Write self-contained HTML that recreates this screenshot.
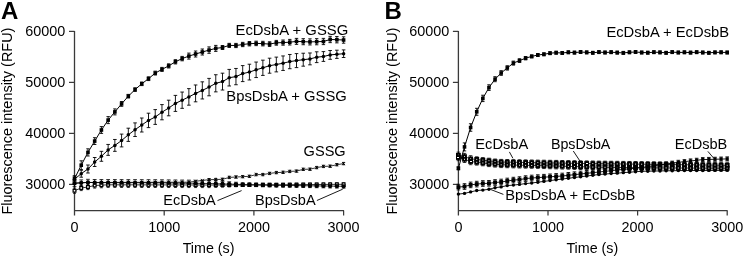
<!DOCTYPE html>
<html><head><meta charset="utf-8"><style>
html,body{margin:0;padding:0;background:#fff;width:744px;height:257px;overflow:hidden;}
svg{display:block;}
svg{will-change:transform}
text{font-family:"Liberation Sans",sans-serif;fill:#000;}
</style></head><body>
<svg width="744" height="257" viewBox="0 0 744 257">
<rect width="744" height="257" fill="#fff"/>
<path d="M74.5 31V215.5M74.5 210.6H344.1" stroke="#3a3a3a" stroke-width="1.3" fill="none"/>
<path d="M164.20 211V215.5" stroke="#3a3a3a" stroke-width="1.25" fill="none"/>
<path d="M253.90 211V215.5" stroke="#3a3a3a" stroke-width="1.25" fill="none"/>
<path d="M343.60 211V215.5" stroke="#3a3a3a" stroke-width="1.25" fill="none"/>
<path d="M69.0 31.4H74.5" stroke="#3a3a3a" stroke-width="1.25" fill="none"/>
<path d="M69.0 82.4H74.5" stroke="#3a3a3a" stroke-width="1.25" fill="none"/>
<path d="M69.0 133.4H74.5" stroke="#3a3a3a" stroke-width="1.25" fill="none"/>
<path d="M69.0 184.4H74.5" stroke="#3a3a3a" stroke-width="1.25" fill="none"/>
<polyline points="74.50,190.70 81.23,188.00 87.95,187.00 94.68,185.50 101.41,185.15 108.14,184.80 114.87,184.81 121.59,184.83 128.32,184.84 135.05,184.85 141.78,184.87 148.50,184.88 155.23,184.89 161.96,184.91 168.69,184.92 175.41,184.93 182.14,184.95 188.87,184.96 195.59,184.97 202.32,184.99 209.05,185.00 215.78,185.00 222.50,185.00 229.23,185.00 235.96,185.00 242.69,185.00 249.41,184.96 256.14,184.92 262.87,184.88 269.60,184.84 276.32,184.80 283.05,184.75 289.78,184.70 296.51,184.65 303.24,184.60 309.96,184.55 316.69,184.50 323.42,184.45 330.14,184.40 336.87,184.35 343.60,184.30" fill="none" stroke="#000" stroke-width="0.8"/>
<polyline points="74.50,183.50 81.23,183.00 87.95,182.40 94.68,182.60 101.41,182.62 108.14,182.64 114.87,182.67 121.59,182.69 128.32,182.71 135.05,182.73 141.78,182.76 148.50,182.78 155.23,182.80 161.96,182.89 168.69,182.98 175.41,183.06 182.14,183.15 188.87,183.24 195.59,183.32 202.32,183.41 209.05,183.50 215.78,183.70 222.50,183.90 229.23,184.10 235.96,184.30 242.69,184.50 249.41,184.66 256.14,184.82 262.87,184.98 269.60,185.14 276.32,185.30 283.05,185.40 289.78,185.50 296.51,185.60 303.24,185.70 309.96,185.80 316.69,185.90 323.42,186.00 330.14,186.10 336.87,186.20 343.60,186.30" fill="none" stroke="#000" stroke-width="0.8"/>
<polyline points="74.50,183.00 81.23,182.50 87.95,182.48 94.68,182.46 101.41,182.44 108.14,182.43 114.87,182.41 121.59,182.39 128.32,182.37 135.05,182.35 141.78,182.33 148.50,182.31 155.23,182.29 161.96,182.27 168.69,182.26 175.41,182.24 182.14,182.22 188.87,182.20 195.59,181.30 202.32,180.40 209.05,179.70 215.78,179.50 222.50,179.30 229.23,177.40 235.96,177.03 242.69,176.67 249.41,176.30 256.14,174.60 262.87,174.60 269.60,173.40 276.32,172.60 283.05,172.30 289.78,171.40 296.51,171.10 303.24,169.30 309.96,169.20 316.69,167.60 323.42,166.40 330.14,166.20 336.87,164.70 343.60,163.60" fill="none" stroke="#000" stroke-width="0.8"/>
<path d="M74.50 188.10V193.30M73.00 188.10h3.0M73.00 193.30h3.0" stroke="#000" stroke-width="0.8" fill="none"/>
<path d="M74.50 180.40V186.60M72.60 180.40h3.8M72.60 186.60h3.8" stroke="#000" stroke-width="0.8" fill="none"/>
<path d="M81.23 185.40V190.60M79.73 185.40h3.0M79.73 190.60h3.0" stroke="#000" stroke-width="0.8" fill="none"/>
<path d="M81.23 179.90V186.10M79.33 179.90h3.8M79.33 186.10h3.8" stroke="#000" stroke-width="0.8" fill="none"/>
<path d="M87.95 184.40V189.60M86.45 184.40h3.0M86.45 189.60h3.0" stroke="#000" stroke-width="0.8" fill="none"/>
<path d="M87.95 179.30V185.50M86.05 179.30h3.8M86.05 185.50h3.8" stroke="#000" stroke-width="0.8" fill="none"/>
<path d="M94.68 182.90V188.10M93.18 182.90h3.0M93.18 188.10h3.0" stroke="#000" stroke-width="0.8" fill="none"/>
<path d="M94.68 179.50V185.70M92.78 179.50h3.8M92.78 185.70h3.8" stroke="#000" stroke-width="0.8" fill="none"/>
<path d="M101.41 182.55V187.75M99.91 182.55h3.0M99.91 187.75h3.0" stroke="#000" stroke-width="0.8" fill="none"/>
<path d="M101.41 179.52V185.72M99.51 179.52h3.8M99.51 185.72h3.8" stroke="#000" stroke-width="0.8" fill="none"/>
<path d="M108.14 182.20V187.40M106.64 182.20h3.0M106.64 187.40h3.0" stroke="#000" stroke-width="0.8" fill="none"/>
<path d="M108.14 179.54V185.74M106.24 179.54h3.8M106.24 185.74h3.8" stroke="#000" stroke-width="0.8" fill="none"/>
<path d="M114.87 182.21V187.41M113.37 182.21h3.0M113.37 187.41h3.0" stroke="#000" stroke-width="0.8" fill="none"/>
<path d="M114.87 179.57V185.77M112.97 179.57h3.8M112.97 185.77h3.8" stroke="#000" stroke-width="0.8" fill="none"/>
<path d="M121.59 182.23V187.43M120.09 182.23h3.0M120.09 187.43h3.0" stroke="#000" stroke-width="0.8" fill="none"/>
<path d="M121.59 179.59V185.79M119.69 179.59h3.8M119.69 185.79h3.8" stroke="#000" stroke-width="0.8" fill="none"/>
<path d="M128.32 182.24V187.44M126.82 182.24h3.0M126.82 187.44h3.0" stroke="#000" stroke-width="0.8" fill="none"/>
<path d="M128.32 179.61V185.81M126.42 179.61h3.8M126.42 185.81h3.8" stroke="#000" stroke-width="0.8" fill="none"/>
<path d="M135.05 182.25V187.45M133.55 182.25h3.0M133.55 187.45h3.0" stroke="#000" stroke-width="0.8" fill="none"/>
<path d="M135.05 179.63V185.83M133.15 179.63h3.8M133.15 185.83h3.8" stroke="#000" stroke-width="0.8" fill="none"/>
<path d="M141.78 182.27V187.47M140.28 182.27h3.0M140.28 187.47h3.0" stroke="#000" stroke-width="0.8" fill="none"/>
<path d="M141.78 179.66V185.86M139.88 179.66h3.8M139.88 185.86h3.8" stroke="#000" stroke-width="0.8" fill="none"/>
<path d="M148.50 182.28V187.48M147.00 182.28h3.0M147.00 187.48h3.0" stroke="#000" stroke-width="0.8" fill="none"/>
<path d="M148.50 179.68V185.88M146.60 179.68h3.8M146.60 185.88h3.8" stroke="#000" stroke-width="0.8" fill="none"/>
<path d="M155.23 182.29V187.49M153.73 182.29h3.0M153.73 187.49h3.0" stroke="#000" stroke-width="0.8" fill="none"/>
<path d="M155.23 179.70V185.90M153.33 179.70h3.8M153.33 185.90h3.8" stroke="#000" stroke-width="0.8" fill="none"/>
<path d="M161.96 182.31V187.51M160.46 182.31h3.0M160.46 187.51h3.0" stroke="#000" stroke-width="0.8" fill="none"/>
<path d="M161.96 179.79V185.99M160.06 179.79h3.8M160.06 185.99h3.8" stroke="#000" stroke-width="0.8" fill="none"/>
<path d="M168.69 182.32V187.52M167.19 182.32h3.0M167.19 187.52h3.0" stroke="#000" stroke-width="0.8" fill="none"/>
<path d="M168.69 179.88V186.08M166.78 179.88h3.8M166.78 186.08h3.8" stroke="#000" stroke-width="0.8" fill="none"/>
<path d="M175.41 182.33V187.53M173.91 182.33h3.0M173.91 187.53h3.0" stroke="#000" stroke-width="0.8" fill="none"/>
<path d="M175.41 179.96V186.16M173.51 179.96h3.8M173.51 186.16h3.8" stroke="#000" stroke-width="0.8" fill="none"/>
<path d="M182.14 182.35V187.55M180.64 182.35h3.0M180.64 187.55h3.0" stroke="#000" stroke-width="0.8" fill="none"/>
<path d="M182.14 180.05V186.25M180.24 180.05h3.8M180.24 186.25h3.8" stroke="#000" stroke-width="0.8" fill="none"/>
<path d="M188.87 182.36V187.56M187.37 182.36h3.0M187.37 187.56h3.0" stroke="#000" stroke-width="0.8" fill="none"/>
<path d="M188.87 180.14V186.34M186.97 180.14h3.8M186.97 186.34h3.8" stroke="#000" stroke-width="0.8" fill="none"/>
<path d="M195.59 182.37V187.57M194.09 182.37h3.0M194.09 187.57h3.0" stroke="#000" stroke-width="0.8" fill="none"/>
<path d="M195.59 180.22V186.42M193.69 180.22h3.8M193.69 186.42h3.8" stroke="#000" stroke-width="0.8" fill="none"/>
<path d="M202.32 182.39V187.59M200.82 182.39h3.0M200.82 187.59h3.0" stroke="#000" stroke-width="0.8" fill="none"/>
<path d="M202.32 180.31V186.51M200.42 180.31h3.8M200.42 186.51h3.8" stroke="#000" stroke-width="0.8" fill="none"/>
<path d="M209.05 182.40V187.60M207.55 182.40h3.0M207.55 187.60h3.0" stroke="#000" stroke-width="0.8" fill="none"/>
<path d="M209.05 180.40V186.60M207.15 180.40h3.8M207.15 186.60h3.8" stroke="#000" stroke-width="0.8" fill="none"/>
<path d="M215.78 182.62V187.38M214.28 182.62h3.0M214.28 187.38h3.0" stroke="#000" stroke-width="0.8" fill="none"/>
<path d="M215.78 180.86V186.54M213.88 180.86h3.8M213.88 186.54h3.8" stroke="#000" stroke-width="0.8" fill="none"/>
<path d="M222.50 182.84V187.16M221.00 182.84h3.0M221.00 187.16h3.0" stroke="#000" stroke-width="0.8" fill="none"/>
<path d="M222.50 181.32V186.48M220.60 181.32h3.8M220.60 186.48h3.8" stroke="#000" stroke-width="0.8" fill="none"/>
<path d="M229.23 183.06V186.94M227.73 183.06h3.0M227.73 186.94h3.0" stroke="#000" stroke-width="0.8" fill="none"/>
<path d="M229.23 181.78V186.42M227.33 181.78h3.8M227.33 186.42h3.8" stroke="#000" stroke-width="0.8" fill="none"/>
<path d="M235.96 183.28V186.72M234.46 183.28h3.0M234.46 186.72h3.0" stroke="#000" stroke-width="0.8" fill="none"/>
<path d="M235.96 182.24V186.36M234.06 182.24h3.8M234.06 186.36h3.8" stroke="#000" stroke-width="0.8" fill="none"/>
<path d="M242.69 183.50V186.50M241.19 183.50h3.0M241.19 186.50h3.0" stroke="#000" stroke-width="0.8" fill="none"/>
<path d="M242.69 182.70V186.30M240.79 182.70h3.8M240.79 186.30h3.8" stroke="#000" stroke-width="0.8" fill="none"/>
<path d="M249.41 183.46V186.46M247.91 183.46h3.0M247.91 186.46h3.0" stroke="#000" stroke-width="0.8" fill="none"/>
<path d="M249.41 182.86V186.46M247.51 182.86h3.8M247.51 186.46h3.8" stroke="#000" stroke-width="0.8" fill="none"/>
<path d="M256.14 183.42V186.42M254.64 183.42h3.0M254.64 186.42h3.0" stroke="#000" stroke-width="0.8" fill="none"/>
<path d="M256.14 183.02V186.62M254.24 183.02h3.8M254.24 186.62h3.8" stroke="#000" stroke-width="0.8" fill="none"/>
<path d="M262.87 183.38V186.38M261.37 183.38h3.0M261.37 186.38h3.0" stroke="#000" stroke-width="0.8" fill="none"/>
<path d="M262.87 183.18V186.78M260.97 183.18h3.8M260.97 186.78h3.8" stroke="#000" stroke-width="0.8" fill="none"/>
<path d="M269.60 183.34V186.34M268.10 183.34h3.0M268.10 186.34h3.0" stroke="#000" stroke-width="0.8" fill="none"/>
<path d="M269.60 183.34V186.94M267.70 183.34h3.8M267.70 186.94h3.8" stroke="#000" stroke-width="0.8" fill="none"/>
<path d="M276.32 183.30V186.30M274.82 183.30h3.0M274.82 186.30h3.0" stroke="#000" stroke-width="0.8" fill="none"/>
<path d="M276.32 183.50V187.10M274.43 183.50h3.8M274.43 187.10h3.8" stroke="#000" stroke-width="0.8" fill="none"/>
<path d="M283.05 183.25V186.25M281.55 183.25h3.0M281.55 186.25h3.0" stroke="#000" stroke-width="0.8" fill="none"/>
<path d="M283.05 183.60V187.20M281.15 183.60h3.8M281.15 187.20h3.8" stroke="#000" stroke-width="0.8" fill="none"/>
<path d="M289.78 183.20V186.20M288.28 183.20h3.0M288.28 186.20h3.0" stroke="#000" stroke-width="0.8" fill="none"/>
<path d="M289.78 183.70V187.30M287.88 183.70h3.8M287.88 187.30h3.8" stroke="#000" stroke-width="0.8" fill="none"/>
<path d="M296.51 183.15V186.15M295.01 183.15h3.0M295.01 186.15h3.0" stroke="#000" stroke-width="0.8" fill="none"/>
<path d="M296.51 183.80V187.40M294.61 183.80h3.8M294.61 187.40h3.8" stroke="#000" stroke-width="0.8" fill="none"/>
<path d="M303.24 183.10V186.10M301.74 183.10h3.0M301.74 186.10h3.0" stroke="#000" stroke-width="0.8" fill="none"/>
<path d="M303.24 183.90V187.50M301.34 183.90h3.8M301.34 187.50h3.8" stroke="#000" stroke-width="0.8" fill="none"/>
<path d="M309.96 183.05V186.05M308.46 183.05h3.0M308.46 186.05h3.0" stroke="#000" stroke-width="0.8" fill="none"/>
<path d="M309.96 184.00V187.60M308.06 184.00h3.8M308.06 187.60h3.8" stroke="#000" stroke-width="0.8" fill="none"/>
<path d="M316.69 183.00V186.00M315.19 183.00h3.0M315.19 186.00h3.0" stroke="#000" stroke-width="0.8" fill="none"/>
<path d="M316.69 184.10V187.70M314.79 184.10h3.8M314.79 187.70h3.8" stroke="#000" stroke-width="0.8" fill="none"/>
<path d="M323.42 182.95V185.95M321.92 182.95h3.0M321.92 185.95h3.0" stroke="#000" stroke-width="0.8" fill="none"/>
<path d="M323.42 184.20V187.80M321.52 184.20h3.8M321.52 187.80h3.8" stroke="#000" stroke-width="0.8" fill="none"/>
<path d="M330.14 182.90V185.90M328.64 182.90h3.0M328.64 185.90h3.0" stroke="#000" stroke-width="0.8" fill="none"/>
<path d="M330.14 184.30V187.90M328.25 184.30h3.8M328.25 187.90h3.8" stroke="#000" stroke-width="0.8" fill="none"/>
<path d="M336.87 182.85V185.85M335.37 182.85h3.0M335.37 185.85h3.0" stroke="#000" stroke-width="0.8" fill="none"/>
<path d="M336.87 184.40V188.00M334.97 184.40h3.8M334.97 188.00h3.8" stroke="#000" stroke-width="0.8" fill="none"/>
<path d="M343.60 182.80V185.80M342.10 182.80h3.0M342.10 185.80h3.0" stroke="#000" stroke-width="0.8" fill="none"/>
<path d="M343.60 184.50V188.10M341.70 184.50h3.8M341.70 188.10h3.8" stroke="#000" stroke-width="0.8" fill="none"/>
<rect x="73.10" y="189.30" width="2.8" height="2.8" fill="#fff" stroke="#000" stroke-width="1.2"/>
<rect x="79.83" y="186.60" width="2.8" height="2.8" fill="#fff" stroke="#000" stroke-width="1.2"/>
<rect x="86.55" y="185.60" width="2.8" height="2.8" fill="#fff" stroke="#000" stroke-width="1.2"/>
<rect x="93.28" y="184.10" width="2.8" height="2.8" fill="#fff" stroke="#000" stroke-width="1.2"/>
<rect x="100.01" y="183.75" width="2.8" height="2.8" fill="#fff" stroke="#000" stroke-width="1.2"/>
<rect x="106.74" y="183.40" width="2.8" height="2.8" fill="#fff" stroke="#000" stroke-width="1.2"/>
<rect x="113.47" y="183.41" width="2.8" height="2.8" fill="#fff" stroke="#000" stroke-width="1.2"/>
<rect x="120.19" y="183.43" width="2.8" height="2.8" fill="#fff" stroke="#000" stroke-width="1.2"/>
<rect x="126.92" y="183.44" width="2.8" height="2.8" fill="#fff" stroke="#000" stroke-width="1.2"/>
<rect x="133.65" y="183.45" width="2.8" height="2.8" fill="#fff" stroke="#000" stroke-width="1.2"/>
<rect x="140.38" y="183.47" width="2.8" height="2.8" fill="#fff" stroke="#000" stroke-width="1.2"/>
<rect x="147.10" y="183.48" width="2.8" height="2.8" fill="#fff" stroke="#000" stroke-width="1.2"/>
<rect x="153.83" y="183.49" width="2.8" height="2.8" fill="#fff" stroke="#000" stroke-width="1.2"/>
<rect x="160.56" y="183.51" width="2.8" height="2.8" fill="#fff" stroke="#000" stroke-width="1.2"/>
<rect x="167.28" y="183.52" width="2.8" height="2.8" fill="#fff" stroke="#000" stroke-width="1.2"/>
<rect x="174.01" y="183.53" width="2.8" height="2.8" fill="#fff" stroke="#000" stroke-width="1.2"/>
<rect x="180.74" y="183.55" width="2.8" height="2.8" fill="#fff" stroke="#000" stroke-width="1.2"/>
<rect x="187.47" y="183.56" width="2.8" height="2.8" fill="#fff" stroke="#000" stroke-width="1.2"/>
<rect x="194.19" y="183.57" width="2.8" height="2.8" fill="#fff" stroke="#000" stroke-width="1.2"/>
<rect x="200.92" y="183.59" width="2.8" height="2.8" fill="#fff" stroke="#000" stroke-width="1.2"/>
<rect x="207.65" y="183.60" width="2.8" height="2.8" fill="#fff" stroke="#000" stroke-width="1.2"/>
<rect x="214.38" y="183.60" width="2.8" height="2.8" fill="#fff" stroke="#000" stroke-width="1.2"/>
<rect x="221.10" y="183.60" width="2.8" height="2.8" fill="#fff" stroke="#000" stroke-width="1.2"/>
<rect x="227.83" y="183.60" width="2.8" height="2.8" fill="#fff" stroke="#000" stroke-width="1.2"/>
<rect x="234.56" y="183.60" width="2.8" height="2.8" fill="#fff" stroke="#000" stroke-width="1.2"/>
<rect x="241.29" y="183.60" width="2.8" height="2.8" fill="#fff" stroke="#000" stroke-width="1.2"/>
<rect x="248.01" y="183.56" width="2.8" height="2.8" fill="#fff" stroke="#000" stroke-width="1.2"/>
<rect x="254.74" y="183.52" width="2.8" height="2.8" fill="#fff" stroke="#000" stroke-width="1.2"/>
<rect x="261.47" y="183.48" width="2.8" height="2.8" fill="#fff" stroke="#000" stroke-width="1.2"/>
<rect x="268.20" y="183.44" width="2.8" height="2.8" fill="#fff" stroke="#000" stroke-width="1.2"/>
<rect x="274.93" y="183.40" width="2.8" height="2.8" fill="#fff" stroke="#000" stroke-width="1.2"/>
<rect x="281.65" y="183.35" width="2.8" height="2.8" fill="#fff" stroke="#000" stroke-width="1.2"/>
<rect x="288.38" y="183.30" width="2.8" height="2.8" fill="#fff" stroke="#000" stroke-width="1.2"/>
<rect x="295.11" y="183.25" width="2.8" height="2.8" fill="#fff" stroke="#000" stroke-width="1.2"/>
<rect x="301.84" y="183.20" width="2.8" height="2.8" fill="#fff" stroke="#000" stroke-width="1.2"/>
<rect x="308.56" y="183.15" width="2.8" height="2.8" fill="#fff" stroke="#000" stroke-width="1.2"/>
<rect x="315.29" y="183.10" width="2.8" height="2.8" fill="#fff" stroke="#000" stroke-width="1.2"/>
<rect x="322.02" y="183.05" width="2.8" height="2.8" fill="#fff" stroke="#000" stroke-width="1.2"/>
<rect x="328.75" y="183.00" width="2.8" height="2.8" fill="#fff" stroke="#000" stroke-width="1.2"/>
<rect x="335.47" y="182.95" width="2.8" height="2.8" fill="#fff" stroke="#000" stroke-width="1.2"/>
<rect x="342.20" y="182.90" width="2.8" height="2.8" fill="#fff" stroke="#000" stroke-width="1.2"/>
<circle cx="74.50" cy="183.50" r="2.1" fill="#000"/>
<circle cx="81.23" cy="183.00" r="2.1" fill="#000"/>
<circle cx="87.95" cy="182.40" r="2.1" fill="#000"/>
<circle cx="94.68" cy="182.60" r="2.1" fill="#000"/>
<circle cx="101.41" cy="182.62" r="2.1" fill="#000"/>
<circle cx="108.14" cy="182.64" r="2.1" fill="#000"/>
<circle cx="114.87" cy="182.67" r="2.1" fill="#000"/>
<circle cx="121.59" cy="182.69" r="2.1" fill="#000"/>
<circle cx="128.32" cy="182.71" r="2.1" fill="#000"/>
<circle cx="135.05" cy="182.73" r="2.1" fill="#000"/>
<circle cx="141.78" cy="182.76" r="2.1" fill="#000"/>
<circle cx="148.50" cy="182.78" r="2.1" fill="#000"/>
<circle cx="155.23" cy="182.80" r="2.1" fill="#000"/>
<circle cx="161.96" cy="182.89" r="2.1" fill="#000"/>
<circle cx="168.69" cy="182.98" r="2.1" fill="#000"/>
<circle cx="175.41" cy="183.06" r="2.1" fill="#000"/>
<circle cx="182.14" cy="183.15" r="2.1" fill="#000"/>
<circle cx="188.87" cy="183.24" r="2.1" fill="#000"/>
<circle cx="195.59" cy="183.32" r="2.1" fill="#000"/>
<circle cx="202.32" cy="183.41" r="2.1" fill="#000"/>
<circle cx="209.05" cy="183.50" r="2.1" fill="#000"/>
<circle cx="215.78" cy="183.70" r="2.1" fill="#000"/>
<circle cx="222.50" cy="183.90" r="2.1" fill="#000"/>
<circle cx="229.23" cy="184.10" r="2.1" fill="#000"/>
<circle cx="235.96" cy="184.30" r="2.1" fill="#000"/>
<circle cx="242.69" cy="184.50" r="2.1" fill="#000"/>
<circle cx="249.41" cy="184.66" r="2.1" fill="#000"/>
<circle cx="256.14" cy="184.82" r="2.1" fill="#000"/>
<circle cx="262.87" cy="184.98" r="2.1" fill="#000"/>
<circle cx="269.60" cy="185.14" r="2.1" fill="#000"/>
<circle cx="276.32" cy="185.30" r="2.1" fill="#000"/>
<circle cx="283.05" cy="185.40" r="2.1" fill="#000"/>
<circle cx="289.78" cy="185.50" r="2.1" fill="#000"/>
<circle cx="296.51" cy="185.60" r="2.1" fill="#000"/>
<circle cx="303.24" cy="185.70" r="2.1" fill="#000"/>
<circle cx="309.96" cy="185.80" r="2.1" fill="#000"/>
<circle cx="316.69" cy="185.90" r="2.1" fill="#000"/>
<circle cx="323.42" cy="186.00" r="2.1" fill="#000"/>
<circle cx="330.14" cy="186.10" r="2.1" fill="#000"/>
<circle cx="336.87" cy="186.20" r="2.1" fill="#000"/>
<circle cx="343.60" cy="186.30" r="2.1" fill="#000"/>
<path d="M73.00 181.50L76.00 184.50M73.00 184.50L76.00 181.50" stroke="#000" stroke-width="0.9"/>
<path d="M79.73 181.00L82.73 184.00M79.73 184.00L82.73 181.00" stroke="#000" stroke-width="0.9"/>
<path d="M86.45 180.98L89.45 183.98M86.45 183.98L89.45 180.98" stroke="#000" stroke-width="0.9"/>
<path d="M93.18 180.96L96.18 183.96M93.18 183.96L96.18 180.96" stroke="#000" stroke-width="0.9"/>
<path d="M99.91 180.94L102.91 183.94M99.91 183.94L102.91 180.94" stroke="#000" stroke-width="0.9"/>
<path d="M106.64 180.93L109.64 183.93M106.64 183.93L109.64 180.93" stroke="#000" stroke-width="0.9"/>
<path d="M113.37 180.91L116.37 183.91M113.37 183.91L116.37 180.91" stroke="#000" stroke-width="0.9"/>
<path d="M120.09 180.89L123.09 183.89M120.09 183.89L123.09 180.89" stroke="#000" stroke-width="0.9"/>
<path d="M126.82 180.87L129.82 183.87M126.82 183.87L129.82 180.87" stroke="#000" stroke-width="0.9"/>
<path d="M133.55 180.85L136.55 183.85M133.55 183.85L136.55 180.85" stroke="#000" stroke-width="0.9"/>
<path d="M140.28 180.83L143.28 183.83M140.28 183.83L143.28 180.83" stroke="#000" stroke-width="0.9"/>
<path d="M147.00 180.81L150.00 183.81M147.00 183.81L150.00 180.81" stroke="#000" stroke-width="0.9"/>
<path d="M153.73 180.79L156.73 183.79M153.73 183.79L156.73 180.79" stroke="#000" stroke-width="0.9"/>
<path d="M160.46 180.77L163.46 183.77M160.46 183.77L163.46 180.77" stroke="#000" stroke-width="0.9"/>
<path d="M167.19 180.76L170.19 183.76M167.19 183.76L170.19 180.76" stroke="#000" stroke-width="0.9"/>
<path d="M173.91 180.74L176.91 183.74M173.91 183.74L176.91 180.74" stroke="#000" stroke-width="0.9"/>
<path d="M180.64 180.72L183.64 183.72M180.64 183.72L183.64 180.72" stroke="#000" stroke-width="0.9"/>
<path d="M187.37 180.70L190.37 183.70M187.37 183.70L190.37 180.70" stroke="#000" stroke-width="0.9"/>
<path d="M194.09 179.80L197.09 182.80M194.09 182.80L197.09 179.80" stroke="#000" stroke-width="0.9"/>
<path d="M200.82 178.90L203.82 181.90M200.82 181.90L203.82 178.90" stroke="#000" stroke-width="0.9"/>
<path d="M207.55 178.20L210.55 181.20M207.55 181.20L210.55 178.20" stroke="#000" stroke-width="0.9"/>
<path d="M209.05 178.50V180.90M207.85 178.50h2.4M207.85 180.90h2.4" stroke="#000" stroke-width="0.9" fill="none"/>
<path d="M214.28 178.00L217.28 181.00M214.28 181.00L217.28 178.00" stroke="#000" stroke-width="0.9"/>
<path d="M215.78 178.30V180.70M214.58 178.30h2.4M214.58 180.70h2.4" stroke="#000" stroke-width="0.9" fill="none"/>
<path d="M221.00 177.80L224.00 180.80M221.00 180.80L224.00 177.80" stroke="#000" stroke-width="0.9"/>
<path d="M222.50 178.10V180.50M221.31 178.10h2.4M221.31 180.50h2.4" stroke="#000" stroke-width="0.9" fill="none"/>
<path d="M227.73 175.90L230.73 178.90M227.73 178.90L230.73 175.90" stroke="#000" stroke-width="0.9"/>
<path d="M229.23 176.20V178.60M228.03 176.20h2.4M228.03 178.60h2.4" stroke="#000" stroke-width="0.9" fill="none"/>
<path d="M234.46 175.53L237.46 178.53M234.46 178.53L237.46 175.53" stroke="#000" stroke-width="0.9"/>
<path d="M235.96 175.83V178.23M234.76 175.83h2.4M234.76 178.23h2.4" stroke="#000" stroke-width="0.9" fill="none"/>
<path d="M241.19 175.17L244.19 178.17M241.19 178.17L244.19 175.17" stroke="#000" stroke-width="0.9"/>
<path d="M242.69 175.47V177.87M241.49 175.47h2.4M241.49 177.87h2.4" stroke="#000" stroke-width="0.9" fill="none"/>
<path d="M247.91 174.80L250.91 177.80M247.91 177.80L250.91 174.80" stroke="#000" stroke-width="0.9"/>
<path d="M249.41 175.10V177.50M248.22 175.10h2.4M248.22 177.50h2.4" stroke="#000" stroke-width="0.9" fill="none"/>
<path d="M254.64 173.10L257.64 176.10M254.64 176.10L257.64 173.10" stroke="#000" stroke-width="0.9"/>
<path d="M256.14 173.40V175.80M254.94 173.40h2.4M254.94 175.80h2.4" stroke="#000" stroke-width="0.9" fill="none"/>
<path d="M261.37 173.10L264.37 176.10M261.37 176.10L264.37 173.10" stroke="#000" stroke-width="0.9"/>
<path d="M262.87 173.40V175.80M261.67 173.40h2.4M261.67 175.80h2.4" stroke="#000" stroke-width="0.9" fill="none"/>
<path d="M268.10 171.90L271.10 174.90M268.10 174.90L271.10 171.90" stroke="#000" stroke-width="0.9"/>
<path d="M269.60 172.20V174.60M268.40 172.20h2.4M268.40 174.60h2.4" stroke="#000" stroke-width="0.9" fill="none"/>
<path d="M274.82 171.10L277.82 174.10M274.82 174.10L277.82 171.10" stroke="#000" stroke-width="0.9"/>
<path d="M276.32 171.40V173.80M275.12 171.40h2.4M275.12 173.80h2.4" stroke="#000" stroke-width="0.9" fill="none"/>
<path d="M281.55 170.80L284.55 173.80M281.55 173.80L284.55 170.80" stroke="#000" stroke-width="0.9"/>
<path d="M283.05 171.10V173.50M281.85 171.10h2.4M281.85 173.50h2.4" stroke="#000" stroke-width="0.9" fill="none"/>
<path d="M288.28 169.90L291.28 172.90M288.28 172.90L291.28 169.90" stroke="#000" stroke-width="0.9"/>
<path d="M289.78 170.20V172.60M288.58 170.20h2.4M288.58 172.60h2.4" stroke="#000" stroke-width="0.9" fill="none"/>
<path d="M295.01 169.60L298.01 172.60M295.01 172.60L298.01 169.60" stroke="#000" stroke-width="0.9"/>
<path d="M296.51 169.90V172.30M295.31 169.90h2.4M295.31 172.30h2.4" stroke="#000" stroke-width="0.9" fill="none"/>
<path d="M301.74 167.80L304.74 170.80M301.74 170.80L304.74 167.80" stroke="#000" stroke-width="0.9"/>
<path d="M303.24 168.10V170.50M302.04 168.10h2.4M302.04 170.50h2.4" stroke="#000" stroke-width="0.9" fill="none"/>
<path d="M308.46 167.70L311.46 170.70M308.46 170.70L311.46 167.70" stroke="#000" stroke-width="0.9"/>
<path d="M309.96 168.00V170.40M308.76 168.00h2.4M308.76 170.40h2.4" stroke="#000" stroke-width="0.9" fill="none"/>
<path d="M315.19 166.10L318.19 169.10M315.19 169.10L318.19 166.10" stroke="#000" stroke-width="0.9"/>
<path d="M316.69 166.40V168.80M315.49 166.40h2.4M315.49 168.80h2.4" stroke="#000" stroke-width="0.9" fill="none"/>
<path d="M321.92 164.90L324.92 167.90M321.92 167.90L324.92 164.90" stroke="#000" stroke-width="0.9"/>
<path d="M323.42 165.20V167.60M322.22 165.20h2.4M322.22 167.60h2.4" stroke="#000" stroke-width="0.9" fill="none"/>
<path d="M328.64 164.70L331.64 167.70M328.64 167.70L331.64 164.70" stroke="#000" stroke-width="0.9"/>
<path d="M330.14 165.00V167.40M328.94 165.00h2.4M328.94 167.40h2.4" stroke="#000" stroke-width="0.9" fill="none"/>
<path d="M335.37 163.20L338.37 166.20M335.37 166.20L338.37 163.20" stroke="#000" stroke-width="0.9"/>
<path d="M336.87 163.50V165.90M335.67 163.50h2.4M335.67 165.90h2.4" stroke="#000" stroke-width="0.9" fill="none"/>
<path d="M342.10 162.10L345.10 165.10M342.10 165.10L345.10 162.10" stroke="#000" stroke-width="0.9"/>
<path d="M343.60 162.40V164.80M342.40 162.40h2.4M342.40 164.80h2.4" stroke="#000" stroke-width="0.9" fill="none"/>
<polyline points="74.50,179.20 81.23,173.70 87.95,169.00 94.68,162.00 101.41,156.30 108.14,149.90 114.87,145.40 121.59,140.50 128.32,134.80 135.05,129.70 141.78,125.00 148.50,120.40 155.23,117.00 161.96,112.20 168.69,108.00 175.41,103.40 182.14,100.20 188.87,96.90 195.59,93.40 202.32,90.40 209.05,87.10 215.78,83.30 222.50,81.60 229.23,77.70 235.96,76.60 242.69,73.60 249.41,72.10 256.14,69.80 262.87,67.80 269.60,65.70 276.32,64.50 283.05,63.20 289.78,61.60 296.51,60.60 303.24,59.70 309.96,58.90 316.69,57.20 323.42,56.50 330.14,54.90 336.87,54.30 343.60,53.70" fill="none" stroke="#000" stroke-width="1.0"/>
<path d="M74.50 176.20V182.20M72.70 176.20h3.6M72.70 182.20h3.6" stroke="#000" stroke-width="0.9" fill="none"/>
<circle cx="74.50" cy="179.20" r="1.75" fill="#000"/>
<path d="M81.23 170.20V177.20M79.43 170.20h3.6M79.43 177.20h3.6" stroke="#000" stroke-width="0.9" fill="none"/>
<circle cx="81.23" cy="173.70" r="1.75" fill="#000"/>
<path d="M87.95 165.00V173.00M86.16 165.00h3.6M86.16 173.00h3.6" stroke="#000" stroke-width="0.9" fill="none"/>
<circle cx="87.95" cy="169.00" r="1.75" fill="#000"/>
<path d="M94.68 157.50V166.50M92.88 157.50h3.6M92.88 166.50h3.6" stroke="#000" stroke-width="0.9" fill="none"/>
<circle cx="94.68" cy="162.00" r="1.75" fill="#000"/>
<path d="M101.41 151.33V161.28M99.61 151.33h3.6M99.61 161.28h3.6" stroke="#000" stroke-width="0.9" fill="none"/>
<circle cx="101.41" cy="156.30" r="1.75" fill="#000"/>
<path d="M108.14 144.45V155.35M106.34 144.45h3.6M106.34 155.35h3.6" stroke="#000" stroke-width="0.9" fill="none"/>
<circle cx="108.14" cy="149.90" r="1.75" fill="#000"/>
<path d="M114.87 139.47V151.33M113.07 139.47h3.6M113.07 151.33h3.6" stroke="#000" stroke-width="0.9" fill="none"/>
<circle cx="114.87" cy="145.40" r="1.75" fill="#000"/>
<path d="M121.59 134.10V146.90M119.79 134.10h3.6M119.79 146.90h3.6" stroke="#000" stroke-width="0.9" fill="none"/>
<circle cx="121.59" cy="140.50" r="1.75" fill="#000"/>
<path d="M128.32 128.20V141.40M126.52 128.20h3.6M126.52 141.40h3.6" stroke="#000" stroke-width="0.9" fill="none"/>
<circle cx="128.32" cy="134.80" r="1.75" fill="#000"/>
<path d="M135.05 122.90V136.50M133.25 122.90h3.6M133.25 136.50h3.6" stroke="#000" stroke-width="0.9" fill="none"/>
<circle cx="135.05" cy="129.70" r="1.75" fill="#000"/>
<path d="M141.78 118.00V132.00M139.97 118.00h3.6M139.97 132.00h3.6" stroke="#000" stroke-width="0.9" fill="none"/>
<circle cx="141.78" cy="125.00" r="1.75" fill="#000"/>
<path d="M148.50 113.20V127.60M146.70 113.20h3.6M146.70 127.60h3.6" stroke="#000" stroke-width="0.9" fill="none"/>
<circle cx="148.50" cy="120.40" r="1.75" fill="#000"/>
<path d="M155.23 109.60V124.40M153.43 109.60h3.6M153.43 124.40h3.6" stroke="#000" stroke-width="0.9" fill="none"/>
<circle cx="155.23" cy="117.00" r="1.75" fill="#000"/>
<path d="M161.96 104.60V119.80M160.16 104.60h3.6M160.16 119.80h3.6" stroke="#000" stroke-width="0.9" fill="none"/>
<circle cx="161.96" cy="112.20" r="1.75" fill="#000"/>
<path d="M168.69 100.20V115.80M166.88 100.20h3.6M166.88 115.80h3.6" stroke="#000" stroke-width="0.9" fill="none"/>
<circle cx="168.69" cy="108.00" r="1.75" fill="#000"/>
<path d="M175.41 95.40V111.40M173.61 95.40h3.6M173.61 111.40h3.6" stroke="#000" stroke-width="0.9" fill="none"/>
<circle cx="175.41" cy="103.40" r="1.75" fill="#000"/>
<path d="M182.14 92.06V108.34M180.34 92.06h3.6M180.34 108.34h3.6" stroke="#000" stroke-width="0.9" fill="none"/>
<circle cx="182.14" cy="100.20" r="1.75" fill="#000"/>
<path d="M188.87 88.62V105.18M187.07 88.62h3.6M187.07 105.18h3.6" stroke="#000" stroke-width="0.9" fill="none"/>
<circle cx="188.87" cy="96.90" r="1.75" fill="#000"/>
<path d="M195.59 84.98V101.82M193.79 84.98h3.6M193.79 101.82h3.6" stroke="#000" stroke-width="0.9" fill="none"/>
<circle cx="195.59" cy="93.40" r="1.75" fill="#000"/>
<path d="M202.32 81.84V98.96M200.52 81.84h3.6M200.52 98.96h3.6" stroke="#000" stroke-width="0.9" fill="none"/>
<circle cx="202.32" cy="90.40" r="1.75" fill="#000"/>
<path d="M209.05 78.40V95.80M207.25 78.40h3.6M207.25 95.80h3.6" stroke="#000" stroke-width="0.9" fill="none"/>
<circle cx="209.05" cy="87.10" r="1.75" fill="#000"/>
<path d="M215.78 74.74V91.86M213.98 74.74h3.6M213.98 91.86h3.6" stroke="#000" stroke-width="0.9" fill="none"/>
<circle cx="215.78" cy="83.30" r="1.75" fill="#000"/>
<path d="M222.50 73.18V90.02M220.70 73.18h3.6M220.70 90.02h3.6" stroke="#000" stroke-width="0.9" fill="none"/>
<circle cx="222.50" cy="81.60" r="1.75" fill="#000"/>
<path d="M229.23 69.42V85.98M227.43 69.42h3.6M227.43 85.98h3.6" stroke="#000" stroke-width="0.9" fill="none"/>
<circle cx="229.23" cy="77.70" r="1.75" fill="#000"/>
<path d="M235.96 68.46V84.74M234.16 68.46h3.6M234.16 84.74h3.6" stroke="#000" stroke-width="0.9" fill="none"/>
<circle cx="235.96" cy="76.60" r="1.75" fill="#000"/>
<path d="M242.69 65.60V81.60M240.89 65.60h3.6M240.89 81.60h3.6" stroke="#000" stroke-width="0.9" fill="none"/>
<circle cx="242.69" cy="73.60" r="1.75" fill="#000"/>
<path d="M249.41 64.22V79.97M247.61 64.22h3.6M247.61 79.97h3.6" stroke="#000" stroke-width="0.9" fill="none"/>
<circle cx="249.41" cy="72.10" r="1.75" fill="#000"/>
<path d="M256.14 62.05V77.55M254.34 62.05h3.6M254.34 77.55h3.6" stroke="#000" stroke-width="0.9" fill="none"/>
<circle cx="256.14" cy="69.80" r="1.75" fill="#000"/>
<path d="M262.87 60.17V75.42M261.07 60.17h3.6M261.07 75.42h3.6" stroke="#000" stroke-width="0.9" fill="none"/>
<circle cx="262.87" cy="67.80" r="1.75" fill="#000"/>
<path d="M269.60 58.20V73.20M267.80 58.20h3.6M267.80 73.20h3.6" stroke="#000" stroke-width="0.9" fill="none"/>
<circle cx="269.60" cy="65.70" r="1.75" fill="#000"/>
<path d="M276.32 57.12V71.88M274.52 57.12h3.6M274.52 71.88h3.6" stroke="#000" stroke-width="0.9" fill="none"/>
<circle cx="276.32" cy="64.50" r="1.75" fill="#000"/>
<path d="M283.05 55.95V70.45M281.25 55.95h3.6M281.25 70.45h3.6" stroke="#000" stroke-width="0.9" fill="none"/>
<circle cx="283.05" cy="63.20" r="1.75" fill="#000"/>
<path d="M289.78 54.48V68.72M287.98 54.48h3.6M287.98 68.72h3.6" stroke="#000" stroke-width="0.9" fill="none"/>
<circle cx="289.78" cy="61.60" r="1.75" fill="#000"/>
<path d="M296.51 53.60V67.60M294.71 53.60h3.6M294.71 67.60h3.6" stroke="#000" stroke-width="0.9" fill="none"/>
<circle cx="296.51" cy="60.60" r="1.75" fill="#000"/>
<path d="M303.24 53.23V66.17M301.44 53.23h3.6M301.44 66.17h3.6" stroke="#000" stroke-width="0.9" fill="none"/>
<circle cx="303.24" cy="59.70" r="1.75" fill="#000"/>
<path d="M309.96 52.97V64.83M308.16 52.97h3.6M308.16 64.83h3.6" stroke="#000" stroke-width="0.9" fill="none"/>
<circle cx="309.96" cy="58.90" r="1.75" fill="#000"/>
<path d="M316.69 51.80V62.60M314.89 51.80h3.6M314.89 62.60h3.6" stroke="#000" stroke-width="0.9" fill="none"/>
<circle cx="316.69" cy="57.20" r="1.75" fill="#000"/>
<path d="M323.42 51.60V61.40M321.62 51.60h3.6M321.62 61.40h3.6" stroke="#000" stroke-width="0.9" fill="none"/>
<circle cx="323.42" cy="56.50" r="1.75" fill="#000"/>
<path d="M330.14 50.50V59.30M328.34 50.50h3.6M328.34 59.30h3.6" stroke="#000" stroke-width="0.9" fill="none"/>
<circle cx="330.14" cy="54.90" r="1.75" fill="#000"/>
<path d="M336.87 50.20V58.40M335.07 50.20h3.6M335.07 58.40h3.6" stroke="#000" stroke-width="0.9" fill="none"/>
<circle cx="336.87" cy="54.30" r="1.75" fill="#000"/>
<path d="M343.60 49.90V57.50M341.80 49.90h3.6M341.80 57.50h3.6" stroke="#000" stroke-width="0.9" fill="none"/>
<circle cx="343.60" cy="53.70" r="1.75" fill="#000"/>
<polyline points="74.50,178.80 81.23,165.20 87.95,152.40 94.68,141.10 101.41,130.00 108.14,120.10 114.87,111.90 121.59,103.90 128.32,96.20 135.05,89.60 141.78,83.80 148.50,78.70 155.23,73.10 161.96,69.40 168.69,65.90 175.41,61.80 182.14,58.60 188.87,56.10 195.59,54.00 202.32,52.00 209.05,50.10 215.78,48.40 222.50,47.50 229.23,45.40 235.96,45.50 242.69,44.50 249.41,43.70 256.14,43.40 262.87,43.60 269.60,44.10 276.32,42.80 283.05,42.60 289.78,42.20 296.51,41.40 303.24,41.70 309.96,41.90 316.69,41.70 323.42,41.50 330.14,39.50 336.87,39.70 343.60,40.00" fill="none" stroke="#000" stroke-width="1.0"/>
<path d="M74.50 175.80V181.80M72.80 175.80h3.4M72.80 181.80h3.4" stroke="#000" stroke-width="0.9" fill="none"/>
<rect x="72.70" y="177.00" width="3.6" height="3.6" fill="#000"/>
<path d="M81.23 160.80V169.60M79.53 160.80h3.4M79.53 169.60h3.4" stroke="#000" stroke-width="0.9" fill="none"/>
<rect x="79.43" y="163.40" width="3.6" height="3.6" fill="#000"/>
<path d="M87.95 148.80V156.00M86.25 148.80h3.4M86.25 156.00h3.4" stroke="#000" stroke-width="0.9" fill="none"/>
<rect x="86.16" y="150.60" width="3.6" height="3.6" fill="#000"/>
<path d="M94.68 137.70V144.50M92.98 137.70h3.4M92.98 144.50h3.4" stroke="#000" stroke-width="0.9" fill="none"/>
<rect x="92.88" y="139.30" width="3.6" height="3.6" fill="#000"/>
<path d="M101.41 126.60V133.40M99.71 126.60h3.4M99.71 133.40h3.4" stroke="#000" stroke-width="0.9" fill="none"/>
<rect x="99.61" y="128.20" width="3.6" height="3.6" fill="#000"/>
<path d="M108.14 116.60V123.60M106.44 116.60h3.4M106.44 123.60h3.4" stroke="#000" stroke-width="0.9" fill="none"/>
<rect x="106.34" y="118.30" width="3.6" height="3.6" fill="#000"/>
<path d="M114.87 108.90V114.90M113.17 108.90h3.4M113.17 114.90h3.4" stroke="#000" stroke-width="0.9" fill="none"/>
<rect x="113.07" y="110.10" width="3.6" height="3.6" fill="#000"/>
<path d="M121.59 101.50V106.30M119.89 101.50h3.4M119.89 106.30h3.4" stroke="#000" stroke-width="0.9" fill="none"/>
<rect x="119.79" y="102.10" width="3.6" height="3.6" fill="#000"/>
<path d="M128.32 94.40V98.00M126.62 94.40h3.4M126.62 98.00h3.4" stroke="#000" stroke-width="0.9" fill="none"/>
<rect x="126.52" y="94.40" width="3.6" height="3.6" fill="#000"/>
<path d="M135.05 87.80V91.40M133.35 87.80h3.4M133.35 91.40h3.4" stroke="#000" stroke-width="0.9" fill="none"/>
<rect x="133.25" y="87.80" width="3.6" height="3.6" fill="#000"/>
<path d="M141.78 82.00V85.60M140.08 82.00h3.4M140.08 85.60h3.4" stroke="#000" stroke-width="0.9" fill="none"/>
<rect x="139.97" y="82.00" width="3.6" height="3.6" fill="#000"/>
<path d="M148.50 76.83V80.57M146.80 76.83h3.4M146.80 80.57h3.4" stroke="#000" stroke-width="0.9" fill="none"/>
<rect x="146.70" y="76.90" width="3.6" height="3.6" fill="#000"/>
<path d="M155.23 71.17V75.03M153.53 71.17h3.4M153.53 75.03h3.4" stroke="#000" stroke-width="0.9" fill="none"/>
<rect x="153.43" y="71.30" width="3.6" height="3.6" fill="#000"/>
<path d="M161.96 67.40V71.40M160.26 67.40h3.4M160.26 71.40h3.4" stroke="#000" stroke-width="0.9" fill="none"/>
<rect x="160.16" y="67.60" width="3.6" height="3.6" fill="#000"/>
<path d="M168.69 63.83V67.97M166.99 63.83h3.4M166.99 67.97h3.4" stroke="#000" stroke-width="0.9" fill="none"/>
<rect x="166.88" y="64.10" width="3.6" height="3.6" fill="#000"/>
<path d="M175.41 59.67V63.93M173.71 59.67h3.4M173.71 63.93h3.4" stroke="#000" stroke-width="0.9" fill="none"/>
<rect x="173.61" y="60.00" width="3.6" height="3.6" fill="#000"/>
<path d="M182.14 56.40V60.80M180.44 56.40h3.4M180.44 60.80h3.4" stroke="#000" stroke-width="0.9" fill="none"/>
<rect x="180.34" y="56.80" width="3.6" height="3.6" fill="#000"/>
<path d="M188.87 53.10V59.10M187.17 53.10h3.4M187.17 59.10h3.4" stroke="#000" stroke-width="0.9" fill="none"/>
<rect x="187.07" y="54.30" width="3.6" height="3.6" fill="#000"/>
<path d="M195.59 51.00V57.00M193.90 51.00h3.4M193.90 57.00h3.4" stroke="#000" stroke-width="0.9" fill="none"/>
<rect x="193.79" y="52.20" width="3.6" height="3.6" fill="#000"/>
<path d="M202.32 49.00V55.00M200.62 49.00h3.4M200.62 55.00h3.4" stroke="#000" stroke-width="0.9" fill="none"/>
<rect x="200.52" y="50.20" width="3.6" height="3.6" fill="#000"/>
<path d="M209.05 46.90V53.30M207.35 46.90h3.4M207.35 53.30h3.4" stroke="#000" stroke-width="0.9" fill="none"/>
<rect x="207.25" y="48.30" width="3.6" height="3.6" fill="#000"/>
<path d="M215.78 45.40V51.40M214.08 45.40h3.4M214.08 51.40h3.4" stroke="#000" stroke-width="0.9" fill="none"/>
<rect x="213.98" y="46.60" width="3.6" height="3.6" fill="#000"/>
<path d="M222.50 45.50V49.50M220.81 45.50h3.4M220.81 49.50h3.4" stroke="#000" stroke-width="0.9" fill="none"/>
<rect x="220.70" y="45.70" width="3.6" height="3.6" fill="#000"/>
<path d="M229.23 43.35V47.45M227.53 43.35h3.4M227.53 47.45h3.4" stroke="#000" stroke-width="0.9" fill="none"/>
<rect x="227.43" y="43.60" width="3.6" height="3.6" fill="#000"/>
<path d="M235.96 43.40V47.60M234.26 43.40h3.4M234.26 47.60h3.4" stroke="#000" stroke-width="0.9" fill="none"/>
<rect x="234.16" y="43.70" width="3.6" height="3.6" fill="#000"/>
<path d="M242.69 42.35V46.65M240.99 42.35h3.4M240.99 46.65h3.4" stroke="#000" stroke-width="0.9" fill="none"/>
<rect x="240.89" y="42.70" width="3.6" height="3.6" fill="#000"/>
<path d="M249.41 41.50V45.90M247.72 41.50h3.4M247.72 45.90h3.4" stroke="#000" stroke-width="0.9" fill="none"/>
<rect x="247.61" y="41.90" width="3.6" height="3.6" fill="#000"/>
<path d="M256.14 41.15V45.65M254.44 41.15h3.4M254.44 45.65h3.4" stroke="#000" stroke-width="0.9" fill="none"/>
<rect x="254.34" y="41.60" width="3.6" height="3.6" fill="#000"/>
<path d="M262.87 41.30V45.90M261.17 41.30h3.4M261.17 45.90h3.4" stroke="#000" stroke-width="0.9" fill="none"/>
<rect x="261.07" y="41.80" width="3.6" height="3.6" fill="#000"/>
<path d="M269.60 41.75V46.45M267.90 41.75h3.4M267.90 46.45h3.4" stroke="#000" stroke-width="0.9" fill="none"/>
<rect x="267.80" y="42.30" width="3.6" height="3.6" fill="#000"/>
<path d="M276.32 40.40V45.20M274.62 40.40h3.4M274.62 45.20h3.4" stroke="#000" stroke-width="0.9" fill="none"/>
<rect x="274.52" y="41.00" width="3.6" height="3.6" fill="#000"/>
<path d="M283.05 40.00V45.20M281.35 40.00h3.4M281.35 45.20h3.4" stroke="#000" stroke-width="0.9" fill="none"/>
<rect x="281.25" y="40.80" width="3.6" height="3.6" fill="#000"/>
<path d="M289.78 39.40V45.00M288.08 39.40h3.4M288.08 45.00h3.4" stroke="#000" stroke-width="0.9" fill="none"/>
<rect x="287.98" y="40.40" width="3.6" height="3.6" fill="#000"/>
<path d="M296.51 38.40V44.40M294.81 38.40h3.4M294.81 44.40h3.4" stroke="#000" stroke-width="0.9" fill="none"/>
<rect x="294.71" y="39.60" width="3.6" height="3.6" fill="#000"/>
<path d="M303.24 38.67V44.73M301.54 38.67h3.4M301.54 44.73h3.4" stroke="#000" stroke-width="0.9" fill="none"/>
<rect x="301.44" y="39.90" width="3.6" height="3.6" fill="#000"/>
<path d="M309.96 38.84V44.96M308.26 38.84h3.4M308.26 44.96h3.4" stroke="#000" stroke-width="0.9" fill="none"/>
<rect x="308.16" y="40.10" width="3.6" height="3.6" fill="#000"/>
<path d="M316.69 38.61V44.79M314.99 38.61h3.4M314.99 44.79h3.4" stroke="#000" stroke-width="0.9" fill="none"/>
<rect x="314.89" y="39.90" width="3.6" height="3.6" fill="#000"/>
<path d="M323.42 38.39V44.61M321.72 38.39h3.4M321.72 44.61h3.4" stroke="#000" stroke-width="0.9" fill="none"/>
<rect x="321.62" y="39.70" width="3.6" height="3.6" fill="#000"/>
<path d="M330.14 36.36V42.64M328.44 36.36h3.4M328.44 42.64h3.4" stroke="#000" stroke-width="0.9" fill="none"/>
<rect x="328.34" y="37.70" width="3.6" height="3.6" fill="#000"/>
<path d="M336.87 36.53V42.87M335.17 36.53h3.4M335.17 42.87h3.4" stroke="#000" stroke-width="0.9" fill="none"/>
<rect x="335.07" y="37.90" width="3.6" height="3.6" fill="#000"/>
<path d="M343.60 36.80V43.20M341.90 36.80h3.4M341.90 43.20h3.4" stroke="#000" stroke-width="0.9" fill="none"/>
<rect x="341.80" y="38.20" width="3.6" height="3.6" fill="#000"/>
<path d="M458.4 31V215.5M458.4 210.6H727.6999999999999" stroke="#3a3a3a" stroke-width="1.3" fill="none"/>
<path d="M548.00 211V215.5" stroke="#3a3a3a" stroke-width="1.25" fill="none"/>
<path d="M637.60 211V215.5" stroke="#3a3a3a" stroke-width="1.25" fill="none"/>
<path d="M727.20 211V215.5" stroke="#3a3a3a" stroke-width="1.25" fill="none"/>
<path d="M452.9 31.4H458.4" stroke="#3a3a3a" stroke-width="1.25" fill="none"/>
<path d="M452.9 82.4H458.4" stroke="#3a3a3a" stroke-width="1.25" fill="none"/>
<path d="M452.9 133.4H458.4" stroke="#3a3a3a" stroke-width="1.25" fill="none"/>
<path d="M452.9 184.4H458.4" stroke="#3a3a3a" stroke-width="1.25" fill="none"/>
<polyline points="458.40,194.10 464.51,193.40 470.62,191.90 476.73,190.50 482.84,190.10 488.95,189.30 495.05,187.70 501.16,186.90 507.27,185.60 513.38,185.10 519.49,184.40 525.60,183.60 531.71,183.00 537.82,182.20 543.93,181.40 550.04,180.60 556.15,179.80 562.25,179.00 568.36,178.25 574.47,177.50 580.58,176.75 586.69,176.00 592.80,175.25 598.91,174.50 605.02,174.04 611.13,173.59 617.24,173.13 623.35,172.67 629.45,172.21 635.56,171.76 641.67,171.30 647.78,171.18 653.89,171.07 660.00,170.95 666.11,170.83 672.22,170.72 678.33,170.60 684.44,170.56 690.55,170.53 696.65,170.49 702.76,170.45 708.87,170.41 714.98,170.38 721.09,170.34 727.20,170.30" fill="none" stroke="#000" stroke-width="0.9"/>
<polyline points="458.40,187.10 464.51,186.50 470.62,184.90 476.73,184.10 482.84,183.50 488.95,183.30 495.05,182.50 501.16,182.00 507.27,181.00 513.38,180.10 519.49,179.60 525.60,178.60 531.71,178.00 537.82,177.60 543.93,177.20 550.04,176.80 556.15,176.40 562.25,176.00 568.36,175.33 574.47,174.67 580.58,174.00 586.69,173.33 592.80,172.67 598.91,172.00 605.02,171.36 611.13,170.71 617.24,170.07 623.35,169.43 629.45,168.79 635.56,168.14 641.67,167.50 647.78,166.63 653.89,165.77 660.00,164.90 666.11,164.03 672.22,163.17 678.33,162.30 684.44,161.62 690.55,160.95 696.65,160.28 702.76,159.60 708.87,159.43 714.98,159.25 721.09,159.07 727.20,158.90" fill="none" stroke="#000" stroke-width="0.9"/>
<polyline points="458.40,157.50 464.51,159.30 470.62,161.50 476.73,162.30 482.84,163.00 488.95,163.80 495.05,164.30 501.16,164.80 507.27,164.93 513.38,165.07 519.49,165.20 525.60,165.33 531.71,165.47 537.82,165.60 543.93,165.76 550.04,165.92 556.15,166.08 562.25,166.24 568.36,166.40 574.47,166.56 580.58,166.72 586.69,166.88 592.80,167.04 598.91,167.20 605.02,167.29 611.13,167.37 617.24,167.46 623.35,167.54 629.45,167.63 635.56,167.71 641.67,167.80 647.78,167.84 653.89,167.87 660.00,167.91 666.11,167.94 672.22,167.98 678.33,168.01 684.44,168.05 690.55,168.09 696.65,168.12 702.76,168.16 708.87,168.19 714.98,168.23 721.09,168.26 727.20,168.30" fill="none" stroke="#000" stroke-width="0.8"/>
<polyline points="458.40,155.30 464.51,156.60 470.62,158.90 476.73,159.40 482.84,160.20 488.95,160.80 495.05,161.60 501.16,162.00 507.27,162.12 513.38,162.23 519.49,162.35 525.60,162.47 531.71,162.58 537.82,162.70 543.93,162.80 550.04,162.90 556.15,163.00 562.25,163.10 568.36,163.20 574.47,163.30 580.58,163.40 586.69,163.50 592.80,163.60 598.91,163.70 605.02,163.77 611.13,163.84 617.24,163.91 623.35,163.99 629.45,164.06 635.56,164.13 641.67,164.20 647.78,164.28 653.89,164.36 660.00,164.44 666.11,164.51 672.22,164.59 678.33,164.67 684.44,164.75 690.55,164.83 696.65,164.91 702.76,164.99 708.87,165.06 714.98,165.14 721.09,165.22 727.20,165.30" fill="none" stroke="#000" stroke-width="0.8"/>
<path d="M458.40 152.10V158.50M456.60 152.10h3.6M456.60 158.50h3.6" stroke="#000" stroke-width="0.8" fill="none"/>
<path d="M458.40 154.30V160.70M456.60 154.30h3.6M456.60 160.70h3.6" stroke="#000" stroke-width="0.8" fill="none"/>
<rect x="456.95" y="153.85" width="2.9" height="2.9" fill="#fff" stroke="#000" stroke-width="1.9"/>
<rect x="456.95" y="156.05" width="2.9" height="2.9" fill="#fff" stroke="#000" stroke-width="1.9"/>
<path d="M464.51 153.40V159.80M462.71 153.40h3.6M462.71 159.80h3.6" stroke="#000" stroke-width="0.8" fill="none"/>
<path d="M464.51 156.10V162.50M462.71 156.10h3.6M462.71 162.50h3.6" stroke="#000" stroke-width="0.8" fill="none"/>
<rect x="463.06" y="155.15" width="2.9" height="2.9" fill="#fff" stroke="#000" stroke-width="1.9"/>
<rect x="463.06" y="157.85" width="2.9" height="2.9" fill="#fff" stroke="#000" stroke-width="1.9"/>
<path d="M470.62 155.70V162.10M468.82 155.70h3.6M468.82 162.10h3.6" stroke="#000" stroke-width="0.8" fill="none"/>
<path d="M470.62 158.30V164.70M468.82 158.30h3.6M468.82 164.70h3.6" stroke="#000" stroke-width="0.8" fill="none"/>
<rect x="469.17" y="157.45" width="2.9" height="2.9" fill="#fff" stroke="#000" stroke-width="1.9"/>
<rect x="469.17" y="160.05" width="2.9" height="2.9" fill="#fff" stroke="#000" stroke-width="1.9"/>
<path d="M476.73 156.80V162.00M474.93 156.80h3.6M474.93 162.00h3.6" stroke="#000" stroke-width="0.8" fill="none"/>
<path d="M476.73 159.50V165.10M474.93 159.50h3.6M474.93 165.10h3.6" stroke="#000" stroke-width="0.8" fill="none"/>
<rect x="475.28" y="157.95" width="2.9" height="2.9" fill="#fff" stroke="#000" stroke-width="1.9"/>
<rect x="475.28" y="160.85" width="2.9" height="2.9" fill="#fff" stroke="#000" stroke-width="1.9"/>
<path d="M482.84 157.60V162.80M481.04 157.60h3.6M481.04 162.80h3.6" stroke="#000" stroke-width="0.8" fill="none"/>
<path d="M482.84 160.20V165.80M481.04 160.20h3.6M481.04 165.80h3.6" stroke="#000" stroke-width="0.8" fill="none"/>
<rect x="481.39" y="158.75" width="2.9" height="2.9" fill="#fff" stroke="#000" stroke-width="1.9"/>
<rect x="481.39" y="161.55" width="2.9" height="2.9" fill="#fff" stroke="#000" stroke-width="1.9"/>
<path d="M488.95 158.20V163.40M487.15 158.20h3.6M487.15 163.40h3.6" stroke="#000" stroke-width="0.8" fill="none"/>
<path d="M488.95 161.00V166.60M487.15 161.00h3.6M487.15 166.60h3.6" stroke="#000" stroke-width="0.8" fill="none"/>
<rect x="487.50" y="159.35" width="2.9" height="2.9" fill="#fff" stroke="#000" stroke-width="1.9"/>
<rect x="487.50" y="162.35" width="2.9" height="2.9" fill="#fff" stroke="#000" stroke-width="1.9"/>
<path d="M495.05 159.00V164.20M493.25 159.00h3.6M493.25 164.20h3.6" stroke="#000" stroke-width="0.8" fill="none"/>
<path d="M495.05 161.50V167.10M493.25 161.50h3.6M493.25 167.10h3.6" stroke="#000" stroke-width="0.8" fill="none"/>
<rect x="493.60" y="160.15" width="2.9" height="2.9" fill="#fff" stroke="#000" stroke-width="1.9"/>
<rect x="493.60" y="162.85" width="2.9" height="2.9" fill="#fff" stroke="#000" stroke-width="1.9"/>
<path d="M501.16 159.40V164.60M499.36 159.40h3.6M499.36 164.60h3.6" stroke="#000" stroke-width="0.8" fill="none"/>
<path d="M501.16 162.00V167.60M499.36 162.00h3.6M499.36 167.60h3.6" stroke="#000" stroke-width="0.8" fill="none"/>
<rect x="499.71" y="160.55" width="2.9" height="2.9" fill="#fff" stroke="#000" stroke-width="1.9"/>
<rect x="499.71" y="163.35" width="2.9" height="2.9" fill="#fff" stroke="#000" stroke-width="1.9"/>
<path d="M507.27 159.52V164.72M505.47 159.52h3.6M505.47 164.72h3.6" stroke="#000" stroke-width="0.8" fill="none"/>
<path d="M507.27 162.13V167.73M505.47 162.13h3.6M505.47 167.73h3.6" stroke="#000" stroke-width="0.8" fill="none"/>
<rect x="505.82" y="160.67" width="2.9" height="2.9" fill="#fff" stroke="#000" stroke-width="1.9"/>
<rect x="505.82" y="163.48" width="2.9" height="2.9" fill="#fff" stroke="#000" stroke-width="1.9"/>
<path d="M513.38 159.63V164.83M511.58 159.63h3.6M511.58 164.83h3.6" stroke="#000" stroke-width="0.8" fill="none"/>
<path d="M513.38 162.27V167.87M511.58 162.27h3.6M511.58 167.87h3.6" stroke="#000" stroke-width="0.8" fill="none"/>
<rect x="511.93" y="160.78" width="2.9" height="2.9" fill="#fff" stroke="#000" stroke-width="1.9"/>
<rect x="511.93" y="163.62" width="2.9" height="2.9" fill="#fff" stroke="#000" stroke-width="1.9"/>
<path d="M519.49 159.75V164.95M517.69 159.75h3.6M517.69 164.95h3.6" stroke="#000" stroke-width="0.8" fill="none"/>
<path d="M519.49 162.40V168.00M517.69 162.40h3.6M517.69 168.00h3.6" stroke="#000" stroke-width="0.8" fill="none"/>
<rect x="518.04" y="160.90" width="2.9" height="2.9" fill="#fff" stroke="#000" stroke-width="1.9"/>
<rect x="518.04" y="163.75" width="2.9" height="2.9" fill="#fff" stroke="#000" stroke-width="1.9"/>
<path d="M525.60 159.87V165.07M523.80 159.87h3.6M523.80 165.07h3.6" stroke="#000" stroke-width="0.8" fill="none"/>
<path d="M525.60 162.53V168.13M523.80 162.53h3.6M523.80 168.13h3.6" stroke="#000" stroke-width="0.8" fill="none"/>
<rect x="524.15" y="161.02" width="2.9" height="2.9" fill="#fff" stroke="#000" stroke-width="1.9"/>
<rect x="524.15" y="163.88" width="2.9" height="2.9" fill="#fff" stroke="#000" stroke-width="1.9"/>
<path d="M531.71 159.98V165.18M529.91 159.98h3.6M529.91 165.18h3.6" stroke="#000" stroke-width="0.8" fill="none"/>
<path d="M531.71 162.67V168.27M529.91 162.67h3.6M529.91 168.27h3.6" stroke="#000" stroke-width="0.8" fill="none"/>
<rect x="530.26" y="161.13" width="2.9" height="2.9" fill="#fff" stroke="#000" stroke-width="1.9"/>
<rect x="530.26" y="164.02" width="2.9" height="2.9" fill="#fff" stroke="#000" stroke-width="1.9"/>
<path d="M537.82 160.10V165.30M536.02 160.10h3.6M536.02 165.30h3.6" stroke="#000" stroke-width="0.8" fill="none"/>
<path d="M537.82 162.80V168.40M536.02 162.80h3.6M536.02 168.40h3.6" stroke="#000" stroke-width="0.8" fill="none"/>
<rect x="536.37" y="161.25" width="2.9" height="2.9" fill="#fff" stroke="#000" stroke-width="1.9"/>
<rect x="536.37" y="164.15" width="2.9" height="2.9" fill="#fff" stroke="#000" stroke-width="1.9"/>
<path d="M543.93 160.20V165.40M542.13 160.20h3.6M542.13 165.40h3.6" stroke="#000" stroke-width="0.8" fill="none"/>
<path d="M543.93 162.96V168.56M542.13 162.96h3.6M542.13 168.56h3.6" stroke="#000" stroke-width="0.8" fill="none"/>
<rect x="542.48" y="161.35" width="2.9" height="2.9" fill="#fff" stroke="#000" stroke-width="1.9"/>
<rect x="542.48" y="164.31" width="2.9" height="2.9" fill="#fff" stroke="#000" stroke-width="1.9"/>
<path d="M550.04 160.30V165.50M548.24 160.30h3.6M548.24 165.50h3.6" stroke="#000" stroke-width="0.8" fill="none"/>
<path d="M550.04 163.12V168.72M548.24 163.12h3.6M548.24 168.72h3.6" stroke="#000" stroke-width="0.8" fill="none"/>
<rect x="548.59" y="161.45" width="2.9" height="2.9" fill="#fff" stroke="#000" stroke-width="1.9"/>
<rect x="548.59" y="164.47" width="2.9" height="2.9" fill="#fff" stroke="#000" stroke-width="1.9"/>
<path d="M556.15 160.40V165.60M554.35 160.40h3.6M554.35 165.60h3.6" stroke="#000" stroke-width="0.8" fill="none"/>
<path d="M556.15 163.28V168.88M554.35 163.28h3.6M554.35 168.88h3.6" stroke="#000" stroke-width="0.8" fill="none"/>
<rect x="554.70" y="161.55" width="2.9" height="2.9" fill="#fff" stroke="#000" stroke-width="1.9"/>
<rect x="554.70" y="164.63" width="2.9" height="2.9" fill="#fff" stroke="#000" stroke-width="1.9"/>
<path d="M562.25 160.50V165.70M560.45 160.50h3.6M560.45 165.70h3.6" stroke="#000" stroke-width="0.8" fill="none"/>
<path d="M562.25 163.44V169.04M560.45 163.44h3.6M560.45 169.04h3.6" stroke="#000" stroke-width="0.8" fill="none"/>
<rect x="560.80" y="161.65" width="2.9" height="2.9" fill="#fff" stroke="#000" stroke-width="1.9"/>
<rect x="560.80" y="164.79" width="2.9" height="2.9" fill="#fff" stroke="#000" stroke-width="1.9"/>
<path d="M568.36 160.60V165.80M566.56 160.60h3.6M566.56 165.80h3.6" stroke="#000" stroke-width="0.8" fill="none"/>
<path d="M568.36 163.60V169.20M566.56 163.60h3.6M566.56 169.20h3.6" stroke="#000" stroke-width="0.8" fill="none"/>
<rect x="566.91" y="161.75" width="2.9" height="2.9" fill="#fff" stroke="#000" stroke-width="1.9"/>
<rect x="566.91" y="164.95" width="2.9" height="2.9" fill="#fff" stroke="#000" stroke-width="1.9"/>
<path d="M574.47 160.70V165.90M572.67 160.70h3.6M572.67 165.90h3.6" stroke="#000" stroke-width="0.8" fill="none"/>
<path d="M574.47 163.76V169.36M572.67 163.76h3.6M572.67 169.36h3.6" stroke="#000" stroke-width="0.8" fill="none"/>
<rect x="573.02" y="161.85" width="2.9" height="2.9" fill="#fff" stroke="#000" stroke-width="1.9"/>
<rect x="573.02" y="165.11" width="2.9" height="2.9" fill="#fff" stroke="#000" stroke-width="1.9"/>
<path d="M580.58 160.80V166.00M578.78 160.80h3.6M578.78 166.00h3.6" stroke="#000" stroke-width="0.8" fill="none"/>
<path d="M580.58 163.92V169.52M578.78 163.92h3.6M578.78 169.52h3.6" stroke="#000" stroke-width="0.8" fill="none"/>
<rect x="579.13" y="161.95" width="2.9" height="2.9" fill="#fff" stroke="#000" stroke-width="1.9"/>
<rect x="579.13" y="165.27" width="2.9" height="2.9" fill="#fff" stroke="#000" stroke-width="1.9"/>
<path d="M586.69 160.90V166.10M584.89 160.90h3.6M584.89 166.10h3.6" stroke="#000" stroke-width="0.8" fill="none"/>
<path d="M586.69 164.08V169.68M584.89 164.08h3.6M584.89 169.68h3.6" stroke="#000" stroke-width="0.8" fill="none"/>
<rect x="585.24" y="162.05" width="2.9" height="2.9" fill="#fff" stroke="#000" stroke-width="1.9"/>
<rect x="585.24" y="165.43" width="2.9" height="2.9" fill="#fff" stroke="#000" stroke-width="1.9"/>
<path d="M592.80 161.00V166.20M591.00 161.00h3.6M591.00 166.20h3.6" stroke="#000" stroke-width="0.8" fill="none"/>
<path d="M592.80 164.24V169.84M591.00 164.24h3.6M591.00 169.84h3.6" stroke="#000" stroke-width="0.8" fill="none"/>
<rect x="591.35" y="162.15" width="2.9" height="2.9" fill="#fff" stroke="#000" stroke-width="1.9"/>
<rect x="591.35" y="165.59" width="2.9" height="2.9" fill="#fff" stroke="#000" stroke-width="1.9"/>
<path d="M598.91 161.10V166.30M597.11 161.10h3.6M597.11 166.30h3.6" stroke="#000" stroke-width="0.8" fill="none"/>
<path d="M598.91 164.40V170.00M597.11 164.40h3.6M597.11 170.00h3.6" stroke="#000" stroke-width="0.8" fill="none"/>
<rect x="597.46" y="162.25" width="2.9" height="2.9" fill="#fff" stroke="#000" stroke-width="1.9"/>
<rect x="597.46" y="165.75" width="2.9" height="2.9" fill="#fff" stroke="#000" stroke-width="1.9"/>
<path d="M605.02 161.17V166.37M603.22 161.17h3.6M603.22 166.37h3.6" stroke="#000" stroke-width="0.8" fill="none"/>
<path d="M605.02 164.49V170.09M603.22 164.49h3.6M603.22 170.09h3.6" stroke="#000" stroke-width="0.8" fill="none"/>
<rect x="603.57" y="162.32" width="2.9" height="2.9" fill="#fff" stroke="#000" stroke-width="1.9"/>
<rect x="603.57" y="165.84" width="2.9" height="2.9" fill="#fff" stroke="#000" stroke-width="1.9"/>
<path d="M611.13 161.24V166.44M609.33 161.24h3.6M609.33 166.44h3.6" stroke="#000" stroke-width="0.8" fill="none"/>
<path d="M611.13 164.57V170.17M609.33 164.57h3.6M609.33 170.17h3.6" stroke="#000" stroke-width="0.8" fill="none"/>
<rect x="609.68" y="162.39" width="2.9" height="2.9" fill="#fff" stroke="#000" stroke-width="1.9"/>
<rect x="609.68" y="165.92" width="2.9" height="2.9" fill="#fff" stroke="#000" stroke-width="1.9"/>
<path d="M617.24 161.31V166.51M615.44 161.31h3.6M615.44 166.51h3.6" stroke="#000" stroke-width="0.8" fill="none"/>
<path d="M617.24 164.66V170.26M615.44 164.66h3.6M615.44 170.26h3.6" stroke="#000" stroke-width="0.8" fill="none"/>
<rect x="615.79" y="162.46" width="2.9" height="2.9" fill="#fff" stroke="#000" stroke-width="1.9"/>
<rect x="615.79" y="166.01" width="2.9" height="2.9" fill="#fff" stroke="#000" stroke-width="1.9"/>
<path d="M623.35 161.39V166.59M621.55 161.39h3.6M621.55 166.59h3.6" stroke="#000" stroke-width="0.8" fill="none"/>
<path d="M623.35 164.74V170.34M621.55 164.74h3.6M621.55 170.34h3.6" stroke="#000" stroke-width="0.8" fill="none"/>
<rect x="621.90" y="162.54" width="2.9" height="2.9" fill="#fff" stroke="#000" stroke-width="1.9"/>
<rect x="621.90" y="166.09" width="2.9" height="2.9" fill="#fff" stroke="#000" stroke-width="1.9"/>
<path d="M629.45 161.46V166.66M627.65 161.46h3.6M627.65 166.66h3.6" stroke="#000" stroke-width="0.8" fill="none"/>
<path d="M629.45 164.83V170.43M627.65 164.83h3.6M627.65 170.43h3.6" stroke="#000" stroke-width="0.8" fill="none"/>
<rect x="628.00" y="162.61" width="2.9" height="2.9" fill="#fff" stroke="#000" stroke-width="1.9"/>
<rect x="628.00" y="166.18" width="2.9" height="2.9" fill="#fff" stroke="#000" stroke-width="1.9"/>
<path d="M635.56 161.53V166.73M633.76 161.53h3.6M633.76 166.73h3.6" stroke="#000" stroke-width="0.8" fill="none"/>
<path d="M635.56 164.91V170.51M633.76 164.91h3.6M633.76 170.51h3.6" stroke="#000" stroke-width="0.8" fill="none"/>
<rect x="634.11" y="162.68" width="2.9" height="2.9" fill="#fff" stroke="#000" stroke-width="1.9"/>
<rect x="634.11" y="166.26" width="2.9" height="2.9" fill="#fff" stroke="#000" stroke-width="1.9"/>
<path d="M641.67 161.60V166.80M639.87 161.60h3.6M639.87 166.80h3.6" stroke="#000" stroke-width="0.8" fill="none"/>
<path d="M641.67 165.00V170.60M639.87 165.00h3.6M639.87 170.60h3.6" stroke="#000" stroke-width="0.8" fill="none"/>
<rect x="640.22" y="162.75" width="2.9" height="2.9" fill="#fff" stroke="#000" stroke-width="1.9"/>
<rect x="640.22" y="166.35" width="2.9" height="2.9" fill="#fff" stroke="#000" stroke-width="1.9"/>
<path d="M647.78 161.68V166.88M645.98 161.68h3.6M645.98 166.88h3.6" stroke="#000" stroke-width="0.8" fill="none"/>
<path d="M647.78 165.04V170.64M645.98 165.04h3.6M645.98 170.64h3.6" stroke="#000" stroke-width="0.8" fill="none"/>
<rect x="646.33" y="162.83" width="2.9" height="2.9" fill="#fff" stroke="#000" stroke-width="1.9"/>
<rect x="646.33" y="166.39" width="2.9" height="2.9" fill="#fff" stroke="#000" stroke-width="1.9"/>
<path d="M653.89 161.76V166.96M652.09 161.76h3.6M652.09 166.96h3.6" stroke="#000" stroke-width="0.8" fill="none"/>
<path d="M653.89 165.07V170.67M652.09 165.07h3.6M652.09 170.67h3.6" stroke="#000" stroke-width="0.8" fill="none"/>
<rect x="652.44" y="162.91" width="2.9" height="2.9" fill="#fff" stroke="#000" stroke-width="1.9"/>
<rect x="652.44" y="166.42" width="2.9" height="2.9" fill="#fff" stroke="#000" stroke-width="1.9"/>
<path d="M660.00 161.84V167.04M658.20 161.84h3.6M658.20 167.04h3.6" stroke="#000" stroke-width="0.8" fill="none"/>
<path d="M660.00 165.11V170.71M658.20 165.11h3.6M658.20 170.71h3.6" stroke="#000" stroke-width="0.8" fill="none"/>
<rect x="658.55" y="162.99" width="2.9" height="2.9" fill="#fff" stroke="#000" stroke-width="1.9"/>
<rect x="658.55" y="166.46" width="2.9" height="2.9" fill="#fff" stroke="#000" stroke-width="1.9"/>
<path d="M666.11 161.91V167.11M664.31 161.91h3.6M664.31 167.11h3.6" stroke="#000" stroke-width="0.8" fill="none"/>
<path d="M666.11 165.14V170.74M664.31 165.14h3.6M664.31 170.74h3.6" stroke="#000" stroke-width="0.8" fill="none"/>
<rect x="664.66" y="163.06" width="2.9" height="2.9" fill="#fff" stroke="#000" stroke-width="1.9"/>
<rect x="664.66" y="166.49" width="2.9" height="2.9" fill="#fff" stroke="#000" stroke-width="1.9"/>
<path d="M672.22 161.99V167.19M670.42 161.99h3.6M670.42 167.19h3.6" stroke="#000" stroke-width="0.8" fill="none"/>
<path d="M672.22 165.18V170.78M670.42 165.18h3.6M670.42 170.78h3.6" stroke="#000" stroke-width="0.8" fill="none"/>
<rect x="670.77" y="163.14" width="2.9" height="2.9" fill="#fff" stroke="#000" stroke-width="1.9"/>
<rect x="670.77" y="166.53" width="2.9" height="2.9" fill="#fff" stroke="#000" stroke-width="1.9"/>
<path d="M678.33 162.07V167.27M676.53 162.07h3.6M676.53 167.27h3.6" stroke="#000" stroke-width="0.8" fill="none"/>
<path d="M678.33 165.21V170.81M676.53 165.21h3.6M676.53 170.81h3.6" stroke="#000" stroke-width="0.8" fill="none"/>
<rect x="676.88" y="163.22" width="2.9" height="2.9" fill="#fff" stroke="#000" stroke-width="1.9"/>
<rect x="676.88" y="166.56" width="2.9" height="2.9" fill="#fff" stroke="#000" stroke-width="1.9"/>
<path d="M684.44 162.15V167.35M682.64 162.15h3.6M682.64 167.35h3.6" stroke="#000" stroke-width="0.8" fill="none"/>
<path d="M684.44 165.25V170.85M682.64 165.25h3.6M682.64 170.85h3.6" stroke="#000" stroke-width="0.8" fill="none"/>
<rect x="682.99" y="163.30" width="2.9" height="2.9" fill="#fff" stroke="#000" stroke-width="1.9"/>
<rect x="682.99" y="166.60" width="2.9" height="2.9" fill="#fff" stroke="#000" stroke-width="1.9"/>
<path d="M690.55 162.23V167.43M688.75 162.23h3.6M688.75 167.43h3.6" stroke="#000" stroke-width="0.8" fill="none"/>
<path d="M690.55 165.29V170.89M688.75 165.29h3.6M688.75 170.89h3.6" stroke="#000" stroke-width="0.8" fill="none"/>
<rect x="689.10" y="163.38" width="2.9" height="2.9" fill="#fff" stroke="#000" stroke-width="1.9"/>
<rect x="689.10" y="166.64" width="2.9" height="2.9" fill="#fff" stroke="#000" stroke-width="1.9"/>
<path d="M696.65 162.31V167.51M694.85 162.31h3.6M694.85 167.51h3.6" stroke="#000" stroke-width="0.8" fill="none"/>
<path d="M696.65 165.32V170.92M694.85 165.32h3.6M694.85 170.92h3.6" stroke="#000" stroke-width="0.8" fill="none"/>
<rect x="695.20" y="163.46" width="2.9" height="2.9" fill="#fff" stroke="#000" stroke-width="1.9"/>
<rect x="695.20" y="166.67" width="2.9" height="2.9" fill="#fff" stroke="#000" stroke-width="1.9"/>
<path d="M702.76 162.39V167.59M700.96 162.39h3.6M700.96 167.59h3.6" stroke="#000" stroke-width="0.8" fill="none"/>
<path d="M702.76 165.36V170.96M700.96 165.36h3.6M700.96 170.96h3.6" stroke="#000" stroke-width="0.8" fill="none"/>
<rect x="701.31" y="163.54" width="2.9" height="2.9" fill="#fff" stroke="#000" stroke-width="1.9"/>
<rect x="701.31" y="166.71" width="2.9" height="2.9" fill="#fff" stroke="#000" stroke-width="1.9"/>
<path d="M708.87 162.46V167.66M707.07 162.46h3.6M707.07 167.66h3.6" stroke="#000" stroke-width="0.8" fill="none"/>
<path d="M708.87 165.39V170.99M707.07 165.39h3.6M707.07 170.99h3.6" stroke="#000" stroke-width="0.8" fill="none"/>
<rect x="707.42" y="163.61" width="2.9" height="2.9" fill="#fff" stroke="#000" stroke-width="1.9"/>
<rect x="707.42" y="166.74" width="2.9" height="2.9" fill="#fff" stroke="#000" stroke-width="1.9"/>
<path d="M714.98 162.54V167.74M713.18 162.54h3.6M713.18 167.74h3.6" stroke="#000" stroke-width="0.8" fill="none"/>
<path d="M714.98 165.43V171.03M713.18 165.43h3.6M713.18 171.03h3.6" stroke="#000" stroke-width="0.8" fill="none"/>
<rect x="713.53" y="163.69" width="2.9" height="2.9" fill="#fff" stroke="#000" stroke-width="1.9"/>
<rect x="713.53" y="166.78" width="2.9" height="2.9" fill="#fff" stroke="#000" stroke-width="1.9"/>
<path d="M721.09 162.62V167.82M719.29 162.62h3.6M719.29 167.82h3.6" stroke="#000" stroke-width="0.8" fill="none"/>
<path d="M721.09 165.46V171.06M719.29 165.46h3.6M719.29 171.06h3.6" stroke="#000" stroke-width="0.8" fill="none"/>
<rect x="719.64" y="163.77" width="2.9" height="2.9" fill="#fff" stroke="#000" stroke-width="1.9"/>
<rect x="719.64" y="166.81" width="2.9" height="2.9" fill="#fff" stroke="#000" stroke-width="1.9"/>
<path d="M727.20 162.70V167.90M725.40 162.70h3.6M725.40 167.90h3.6" stroke="#000" stroke-width="0.8" fill="none"/>
<path d="M727.20 165.50V171.10M725.40 165.50h3.6M725.40 171.10h3.6" stroke="#000" stroke-width="0.8" fill="none"/>
<rect x="725.75" y="163.85" width="2.9" height="2.9" fill="#fff" stroke="#000" stroke-width="1.9"/>
<rect x="725.75" y="166.85" width="2.9" height="2.9" fill="#fff" stroke="#000" stroke-width="1.9"/>
<path d="M458.40 184.30V189.90M456.60 184.30h3.6M456.60 189.90h3.6" stroke="#000" stroke-width="0.9" fill="none"/>
<rect x="456.45" y="185.15" width="3.9" height="3.9" fill="#000"/>
<path d="M464.51 183.70V189.30M462.71 183.70h3.6M462.71 189.30h3.6" stroke="#000" stroke-width="0.9" fill="none"/>
<rect x="462.56" y="184.55" width="3.9" height="3.9" fill="#000"/>
<path d="M470.62 182.10V187.70M468.82 182.10h3.6M468.82 187.70h3.6" stroke="#000" stroke-width="0.9" fill="none"/>
<rect x="468.67" y="182.95" width="3.9" height="3.9" fill="#000"/>
<path d="M476.73 181.30V186.90M474.93 181.30h3.6M474.93 186.90h3.6" stroke="#000" stroke-width="0.9" fill="none"/>
<rect x="474.78" y="182.15" width="3.9" height="3.9" fill="#000"/>
<path d="M482.84 180.70V186.30M481.04 180.70h3.6M481.04 186.30h3.6" stroke="#000" stroke-width="0.9" fill="none"/>
<rect x="480.89" y="181.55" width="3.9" height="3.9" fill="#000"/>
<path d="M488.95 180.50V186.10M487.15 180.50h3.6M487.15 186.10h3.6" stroke="#000" stroke-width="0.9" fill="none"/>
<rect x="487.00" y="181.35" width="3.9" height="3.9" fill="#000"/>
<path d="M495.05 179.70V185.30M493.25 179.70h3.6M493.25 185.30h3.6" stroke="#000" stroke-width="0.9" fill="none"/>
<rect x="493.10" y="180.55" width="3.9" height="3.9" fill="#000"/>
<path d="M501.16 179.20V184.80M499.36 179.20h3.6M499.36 184.80h3.6" stroke="#000" stroke-width="0.9" fill="none"/>
<rect x="499.21" y="180.05" width="3.9" height="3.9" fill="#000"/>
<path d="M507.27 178.20V183.80M505.47 178.20h3.6M505.47 183.80h3.6" stroke="#000" stroke-width="0.9" fill="none"/>
<rect x="505.32" y="179.05" width="3.9" height="3.9" fill="#000"/>
<path d="M513.38 177.30V182.90M511.58 177.30h3.6M511.58 182.90h3.6" stroke="#000" stroke-width="0.9" fill="none"/>
<rect x="511.43" y="178.15" width="3.9" height="3.9" fill="#000"/>
<path d="M519.49 176.80V182.40M517.69 176.80h3.6M517.69 182.40h3.6" stroke="#000" stroke-width="0.9" fill="none"/>
<rect x="517.54" y="177.65" width="3.9" height="3.9" fill="#000"/>
<path d="M525.60 175.80V181.40M523.80 175.80h3.6M523.80 181.40h3.6" stroke="#000" stroke-width="0.9" fill="none"/>
<rect x="523.65" y="176.65" width="3.9" height="3.9" fill="#000"/>
<path d="M531.71 175.20V180.80M529.91 175.20h3.6M529.91 180.80h3.6" stroke="#000" stroke-width="0.9" fill="none"/>
<rect x="529.76" y="176.05" width="3.9" height="3.9" fill="#000"/>
<path d="M537.82 174.80V180.40M536.02 174.80h3.6M536.02 180.40h3.6" stroke="#000" stroke-width="0.9" fill="none"/>
<rect x="535.87" y="175.65" width="3.9" height="3.9" fill="#000"/>
<path d="M543.93 174.40V180.00M542.13 174.40h3.6M542.13 180.00h3.6" stroke="#000" stroke-width="0.9" fill="none"/>
<rect x="541.98" y="175.25" width="3.9" height="3.9" fill="#000"/>
<path d="M550.04 174.00V179.60M548.24 174.00h3.6M548.24 179.60h3.6" stroke="#000" stroke-width="0.9" fill="none"/>
<rect x="548.09" y="174.85" width="3.9" height="3.9" fill="#000"/>
<path d="M556.15 173.60V179.20M554.35 173.60h3.6M554.35 179.20h3.6" stroke="#000" stroke-width="0.9" fill="none"/>
<rect x="554.20" y="174.45" width="3.9" height="3.9" fill="#000"/>
<path d="M562.25 173.20V178.80M560.45 173.20h3.6M560.45 178.80h3.6" stroke="#000" stroke-width="0.9" fill="none"/>
<rect x="560.30" y="174.05" width="3.9" height="3.9" fill="#000"/>
<path d="M568.36 172.53V178.13M566.56 172.53h3.6M566.56 178.13h3.6" stroke="#000" stroke-width="0.9" fill="none"/>
<rect x="566.41" y="173.38" width="3.9" height="3.9" fill="#000"/>
<path d="M574.47 171.87V177.47M572.67 171.87h3.6M572.67 177.47h3.6" stroke="#000" stroke-width="0.9" fill="none"/>
<rect x="572.52" y="172.72" width="3.9" height="3.9" fill="#000"/>
<path d="M580.58 171.20V176.80M578.78 171.20h3.6M578.78 176.80h3.6" stroke="#000" stroke-width="0.9" fill="none"/>
<rect x="578.63" y="172.05" width="3.9" height="3.9" fill="#000"/>
<path d="M586.69 170.53V176.13M584.89 170.53h3.6M584.89 176.13h3.6" stroke="#000" stroke-width="0.9" fill="none"/>
<rect x="584.74" y="171.38" width="3.9" height="3.9" fill="#000"/>
<path d="M592.80 169.87V175.47M591.00 169.87h3.6M591.00 175.47h3.6" stroke="#000" stroke-width="0.9" fill="none"/>
<rect x="590.85" y="170.72" width="3.9" height="3.9" fill="#000"/>
<path d="M598.91 169.20V174.80M597.11 169.20h3.6M597.11 174.80h3.6" stroke="#000" stroke-width="0.9" fill="none"/>
<rect x="596.96" y="170.05" width="3.9" height="3.9" fill="#000"/>
<path d="M605.02 168.56V174.16M603.22 168.56h3.6M603.22 174.16h3.6" stroke="#000" stroke-width="0.9" fill="none"/>
<rect x="603.07" y="169.41" width="3.9" height="3.9" fill="#000"/>
<path d="M611.13 167.91V173.51M609.33 167.91h3.6M609.33 173.51h3.6" stroke="#000" stroke-width="0.9" fill="none"/>
<rect x="609.18" y="168.76" width="3.9" height="3.9" fill="#000"/>
<path d="M617.24 167.27V172.87M615.44 167.27h3.6M615.44 172.87h3.6" stroke="#000" stroke-width="0.9" fill="none"/>
<rect x="615.29" y="168.12" width="3.9" height="3.9" fill="#000"/>
<path d="M623.35 166.63V172.23M621.55 166.63h3.6M621.55 172.23h3.6" stroke="#000" stroke-width="0.9" fill="none"/>
<rect x="621.40" y="167.48" width="3.9" height="3.9" fill="#000"/>
<path d="M629.45 165.99V171.59M627.65 165.99h3.6M627.65 171.59h3.6" stroke="#000" stroke-width="0.9" fill="none"/>
<rect x="627.50" y="166.84" width="3.9" height="3.9" fill="#000"/>
<path d="M635.56 165.34V170.94M633.76 165.34h3.6M633.76 170.94h3.6" stroke="#000" stroke-width="0.9" fill="none"/>
<rect x="633.61" y="166.19" width="3.9" height="3.9" fill="#000"/>
<path d="M641.67 165.50V169.50M639.87 165.50h3.6M639.87 169.50h3.6" stroke="#000" stroke-width="0.9" fill="none"/>
<rect x="640.07" y="165.90" width="3.2" height="3.2" fill="#000"/>
<path d="M647.78 164.63V168.63M645.98 164.63h3.6M645.98 168.63h3.6" stroke="#000" stroke-width="0.9" fill="none"/>
<rect x="646.18" y="165.03" width="3.2" height="3.2" fill="#000"/>
<path d="M653.89 163.77V167.77M652.09 163.77h3.6M652.09 167.77h3.6" stroke="#000" stroke-width="0.9" fill="none"/>
<rect x="652.29" y="164.17" width="3.2" height="3.2" fill="#000"/>
<path d="M660.00 162.90V166.90M658.20 162.90h3.6M658.20 166.90h3.6" stroke="#000" stroke-width="0.9" fill="none"/>
<rect x="658.40" y="163.30" width="3.2" height="3.2" fill="#000"/>
<path d="M666.11 162.03V166.03M664.31 162.03h3.6M664.31 166.03h3.6" stroke="#000" stroke-width="0.9" fill="none"/>
<rect x="664.51" y="162.43" width="3.2" height="3.2" fill="#000"/>
<path d="M672.22 161.17V165.17M670.42 161.17h3.6M670.42 165.17h3.6" stroke="#000" stroke-width="0.9" fill="none"/>
<rect x="670.62" y="161.57" width="3.2" height="3.2" fill="#000"/>
<path d="M678.33 160.30V164.30M676.53 160.30h3.6M676.53 164.30h3.6" stroke="#000" stroke-width="0.9" fill="none"/>
<rect x="676.73" y="160.70" width="3.2" height="3.2" fill="#000"/>
<path d="M684.44 159.62V163.62M682.64 159.62h3.6M682.64 163.62h3.6" stroke="#000" stroke-width="0.9" fill="none"/>
<rect x="682.84" y="160.03" width="3.2" height="3.2" fill="#000"/>
<path d="M690.55 158.95V162.95M688.75 158.95h3.6M688.75 162.95h3.6" stroke="#000" stroke-width="0.9" fill="none"/>
<rect x="688.95" y="159.35" width="3.2" height="3.2" fill="#000"/>
<path d="M696.65 158.28V162.28M694.85 158.28h3.6M694.85 162.28h3.6" stroke="#000" stroke-width="0.9" fill="none"/>
<rect x="695.05" y="158.68" width="3.2" height="3.2" fill="#000"/>
<path d="M702.76 157.60V161.60M700.96 157.60h3.6M700.96 161.60h3.6" stroke="#000" stroke-width="0.9" fill="none"/>
<rect x="701.16" y="158.00" width="3.2" height="3.2" fill="#000"/>
<path d="M708.87 157.43V161.43M707.07 157.43h3.6M707.07 161.43h3.6" stroke="#000" stroke-width="0.9" fill="none"/>
<rect x="707.27" y="157.83" width="3.2" height="3.2" fill="#000"/>
<path d="M714.98 157.25V161.25M713.18 157.25h3.6M713.18 161.25h3.6" stroke="#000" stroke-width="0.9" fill="none"/>
<rect x="713.38" y="157.65" width="3.2" height="3.2" fill="#000"/>
<path d="M721.09 157.07V161.07M719.29 157.07h3.6M719.29 161.07h3.6" stroke="#000" stroke-width="0.9" fill="none"/>
<rect x="719.49" y="157.47" width="3.2" height="3.2" fill="#000"/>
<path d="M727.20 156.90V160.90M725.40 156.90h3.6M725.40 160.90h3.6" stroke="#000" stroke-width="0.9" fill="none"/>
<rect x="725.60" y="157.30" width="3.2" height="3.2" fill="#000"/>
<circle cx="458.40" cy="194.10" r="1.7" fill="#000"/>
<circle cx="464.51" cy="193.40" r="1.7" fill="#000"/>
<circle cx="470.62" cy="191.90" r="1.7" fill="#000"/>
<circle cx="476.73" cy="190.50" r="1.7" fill="#000"/>
<circle cx="482.84" cy="190.10" r="1.7" fill="#000"/>
<circle cx="488.95" cy="189.30" r="1.7" fill="#000"/>
<circle cx="495.05" cy="187.70" r="1.7" fill="#000"/>
<circle cx="501.16" cy="186.90" r="1.7" fill="#000"/>
<circle cx="507.27" cy="185.60" r="1.7" fill="#000"/>
<circle cx="513.38" cy="185.10" r="1.7" fill="#000"/>
<circle cx="519.49" cy="184.40" r="1.7" fill="#000"/>
<circle cx="525.60" cy="183.60" r="1.7" fill="#000"/>
<circle cx="531.71" cy="183.00" r="1.7" fill="#000"/>
<circle cx="537.82" cy="182.20" r="1.7" fill="#000"/>
<circle cx="543.93" cy="181.40" r="1.7" fill="#000"/>
<circle cx="550.04" cy="180.60" r="1.7" fill="#000"/>
<circle cx="556.15" cy="179.80" r="1.7" fill="#000"/>
<circle cx="562.25" cy="179.00" r="1.7" fill="#000"/>
<circle cx="568.36" cy="178.25" r="1.7" fill="#000"/>
<circle cx="574.47" cy="177.50" r="1.7" fill="#000"/>
<circle cx="580.58" cy="176.75" r="1.7" fill="#000"/>
<circle cx="586.69" cy="176.00" r="1.7" fill="#000"/>
<circle cx="592.80" cy="175.25" r="1.7" fill="#000"/>
<circle cx="598.91" cy="174.50" r="1.7" fill="#000"/>
<circle cx="605.02" cy="174.04" r="1.7" fill="#000"/>
<circle cx="611.13" cy="173.59" r="1.7" fill="#000"/>
<circle cx="617.24" cy="173.13" r="1.7" fill="#000"/>
<circle cx="623.35" cy="172.67" r="1.7" fill="#000"/>
<circle cx="629.45" cy="172.21" r="1.7" fill="#000"/>
<circle cx="635.56" cy="171.76" r="1.7" fill="#000"/>
<circle cx="641.67" cy="171.30" r="1.7" fill="#000"/>
<circle cx="647.78" cy="171.18" r="1.7" fill="#000"/>
<circle cx="653.89" cy="171.07" r="1.7" fill="#000"/>
<circle cx="660.00" cy="170.95" r="1.7" fill="#000"/>
<circle cx="666.11" cy="170.83" r="1.7" fill="#000"/>
<circle cx="672.22" cy="170.72" r="1.7" fill="#000"/>
<circle cx="678.33" cy="170.60" r="1.7" fill="#000"/>
<circle cx="684.44" cy="170.56" r="1.7" fill="#000"/>
<circle cx="690.55" cy="170.53" r="1.7" fill="#000"/>
<circle cx="696.65" cy="170.49" r="1.7" fill="#000"/>
<circle cx="702.76" cy="170.45" r="1.7" fill="#000"/>
<circle cx="708.87" cy="170.41" r="1.7" fill="#000"/>
<circle cx="714.98" cy="170.38" r="1.7" fill="#000"/>
<circle cx="721.09" cy="170.34" r="1.7" fill="#000"/>
<circle cx="727.20" cy="170.30" r="1.7" fill="#000"/>
<polyline points="458.40,168.30 464.51,146.90 470.62,127.50 476.73,111.80 482.84,98.40 488.95,87.60 495.05,79.20 501.16,73.00 507.27,67.90 513.38,63.10 519.49,60.60 525.60,58.20 531.71,56.40 537.82,55.00 543.93,54.30 550.04,53.20 556.15,52.70 562.25,53.00 568.36,52.30 574.47,52.60 580.58,52.00 586.69,52.40 592.80,52.80 598.91,52.10 605.02,52.50 611.13,52.20 617.24,52.60 623.35,52.90 629.45,52.30 635.56,52.00 641.67,52.50 647.78,52.70 653.89,52.20 660.00,52.40 666.11,52.80 672.22,52.10 678.33,52.50 684.44,52.30 690.55,52.60 696.65,52.20 702.76,52.50 708.87,52.80 714.98,52.40 721.09,52.30 727.20,52.50" fill="none" stroke="#000" stroke-width="1.0"/>
<path d="M458.40 166.80V169.80M456.70 166.80h3.4M456.70 169.80h3.4" stroke="#000" stroke-width="0.9" fill="none"/>
<rect x="456.60" y="166.50" width="3.6" height="3.6" fill="#000"/>
<path d="M464.51 142.90V150.90M462.81 142.90h3.4M462.81 150.90h3.4" stroke="#000" stroke-width="0.9" fill="none"/>
<rect x="462.71" y="145.10" width="3.6" height="3.6" fill="#000"/>
<path d="M470.62 123.75V131.25M468.92 123.75h3.4M468.92 131.25h3.4" stroke="#000" stroke-width="0.9" fill="none"/>
<rect x="468.82" y="125.70" width="3.6" height="3.6" fill="#000"/>
<path d="M476.73 108.30V115.30M475.03 108.30h3.4M475.03 115.30h3.4" stroke="#000" stroke-width="0.9" fill="none"/>
<rect x="474.93" y="110.00" width="3.6" height="3.6" fill="#000"/>
<path d="M482.84 95.23V101.57M481.14 95.23h3.4M481.14 101.57h3.4" stroke="#000" stroke-width="0.9" fill="none"/>
<rect x="481.04" y="96.60" width="3.6" height="3.6" fill="#000"/>
<path d="M488.95 84.77V90.43M487.25 84.77h3.4M487.25 90.43h3.4" stroke="#000" stroke-width="0.9" fill="none"/>
<rect x="487.15" y="85.80" width="3.6" height="3.6" fill="#000"/>
<path d="M495.05 76.70V81.70M493.35 76.70h3.4M493.35 81.70h3.4" stroke="#000" stroke-width="0.9" fill="none"/>
<rect x="493.25" y="77.40" width="3.6" height="3.6" fill="#000"/>
<path d="M501.16 70.67V75.33M499.46 70.67h3.4M499.46 75.33h3.4" stroke="#000" stroke-width="0.9" fill="none"/>
<rect x="499.36" y="71.20" width="3.6" height="3.6" fill="#000"/>
<path d="M507.27 65.73V70.07M505.57 65.73h3.4M505.57 70.07h3.4" stroke="#000" stroke-width="0.9" fill="none"/>
<rect x="505.47" y="66.10" width="3.6" height="3.6" fill="#000"/>
<path d="M513.38 61.10V65.10M511.68 61.10h3.4M511.68 65.10h3.4" stroke="#000" stroke-width="0.9" fill="none"/>
<rect x="511.58" y="61.30" width="3.6" height="3.6" fill="#000"/>
<path d="M519.49 58.77V62.43M517.79 58.77h3.4M517.79 62.43h3.4" stroke="#000" stroke-width="0.9" fill="none"/>
<rect x="517.69" y="58.80" width="3.6" height="3.6" fill="#000"/>
<path d="M525.60 56.53V59.87M523.90 56.53h3.4M523.90 59.87h3.4" stroke="#000" stroke-width="0.9" fill="none"/>
<rect x="523.80" y="56.40" width="3.6" height="3.6" fill="#000"/>
<path d="M531.71 54.90V57.90M530.01 54.90h3.4M530.01 57.90h3.4" stroke="#000" stroke-width="0.9" fill="none"/>
<rect x="529.91" y="54.60" width="3.6" height="3.6" fill="#000"/>
<path d="M537.82 53.50V56.50M536.12 53.50h3.4M536.12 56.50h3.4" stroke="#000" stroke-width="0.9" fill="none"/>
<rect x="536.02" y="53.20" width="3.6" height="3.6" fill="#000"/>
<path d="M543.93 52.80V55.80M542.23 52.80h3.4M542.23 55.80h3.4" stroke="#000" stroke-width="0.9" fill="none"/>
<rect x="542.13" y="52.50" width="3.6" height="3.6" fill="#000"/>
<path d="M550.04 51.70V54.70M548.34 51.70h3.4M548.34 54.70h3.4" stroke="#000" stroke-width="0.9" fill="none"/>
<rect x="548.24" y="51.40" width="3.6" height="3.6" fill="#000"/>
<path d="M556.15 51.20V54.20M554.45 51.20h3.4M554.45 54.20h3.4" stroke="#000" stroke-width="0.9" fill="none"/>
<rect x="554.35" y="50.90" width="3.6" height="3.6" fill="#000"/>
<path d="M562.25 51.50V54.50M560.55 51.50h3.4M560.55 54.50h3.4" stroke="#000" stroke-width="0.9" fill="none"/>
<rect x="560.45" y="51.20" width="3.6" height="3.6" fill="#000"/>
<path d="M568.36 50.80V53.80M566.66 50.80h3.4M566.66 53.80h3.4" stroke="#000" stroke-width="0.9" fill="none"/>
<rect x="566.56" y="50.50" width="3.6" height="3.6" fill="#000"/>
<path d="M574.47 51.10V54.10M572.77 51.10h3.4M572.77 54.10h3.4" stroke="#000" stroke-width="0.9" fill="none"/>
<rect x="572.67" y="50.80" width="3.6" height="3.6" fill="#000"/>
<path d="M580.58 50.50V53.50M578.88 50.50h3.4M578.88 53.50h3.4" stroke="#000" stroke-width="0.9" fill="none"/>
<rect x="578.78" y="50.20" width="3.6" height="3.6" fill="#000"/>
<path d="M586.69 50.90V53.90M584.99 50.90h3.4M584.99 53.90h3.4" stroke="#000" stroke-width="0.9" fill="none"/>
<rect x="584.89" y="50.60" width="3.6" height="3.6" fill="#000"/>
<path d="M592.80 51.30V54.30M591.10 51.30h3.4M591.10 54.30h3.4" stroke="#000" stroke-width="0.9" fill="none"/>
<rect x="591.00" y="51.00" width="3.6" height="3.6" fill="#000"/>
<path d="M598.91 50.60V53.60M597.21 50.60h3.4M597.21 53.60h3.4" stroke="#000" stroke-width="0.9" fill="none"/>
<rect x="597.11" y="50.30" width="3.6" height="3.6" fill="#000"/>
<path d="M605.02 51.00V54.00M603.32 51.00h3.4M603.32 54.00h3.4" stroke="#000" stroke-width="0.9" fill="none"/>
<rect x="603.22" y="50.70" width="3.6" height="3.6" fill="#000"/>
<path d="M611.13 50.70V53.70M609.43 50.70h3.4M609.43 53.70h3.4" stroke="#000" stroke-width="0.9" fill="none"/>
<rect x="609.33" y="50.40" width="3.6" height="3.6" fill="#000"/>
<path d="M617.24 51.10V54.10M615.54 51.10h3.4M615.54 54.10h3.4" stroke="#000" stroke-width="0.9" fill="none"/>
<rect x="615.44" y="50.80" width="3.6" height="3.6" fill="#000"/>
<path d="M623.35 51.40V54.40M621.65 51.40h3.4M621.65 54.40h3.4" stroke="#000" stroke-width="0.9" fill="none"/>
<rect x="621.55" y="51.10" width="3.6" height="3.6" fill="#000"/>
<path d="M629.45 50.80V53.80M627.75 50.80h3.4M627.75 53.80h3.4" stroke="#000" stroke-width="0.9" fill="none"/>
<rect x="627.65" y="50.50" width="3.6" height="3.6" fill="#000"/>
<path d="M635.56 50.50V53.50M633.86 50.50h3.4M633.86 53.50h3.4" stroke="#000" stroke-width="0.9" fill="none"/>
<rect x="633.76" y="50.20" width="3.6" height="3.6" fill="#000"/>
<path d="M641.67 51.00V54.00M639.97 51.00h3.4M639.97 54.00h3.4" stroke="#000" stroke-width="0.9" fill="none"/>
<rect x="639.87" y="50.70" width="3.6" height="3.6" fill="#000"/>
<path d="M647.78 51.20V54.20M646.08 51.20h3.4M646.08 54.20h3.4" stroke="#000" stroke-width="0.9" fill="none"/>
<rect x="645.98" y="50.90" width="3.6" height="3.6" fill="#000"/>
<path d="M653.89 50.70V53.70M652.19 50.70h3.4M652.19 53.70h3.4" stroke="#000" stroke-width="0.9" fill="none"/>
<rect x="652.09" y="50.40" width="3.6" height="3.6" fill="#000"/>
<path d="M660.00 50.90V53.90M658.30 50.90h3.4M658.30 53.90h3.4" stroke="#000" stroke-width="0.9" fill="none"/>
<rect x="658.20" y="50.60" width="3.6" height="3.6" fill="#000"/>
<path d="M666.11 51.30V54.30M664.41 51.30h3.4M664.41 54.30h3.4" stroke="#000" stroke-width="0.9" fill="none"/>
<rect x="664.31" y="51.00" width="3.6" height="3.6" fill="#000"/>
<path d="M672.22 50.60V53.60M670.52 50.60h3.4M670.52 53.60h3.4" stroke="#000" stroke-width="0.9" fill="none"/>
<rect x="670.42" y="50.30" width="3.6" height="3.6" fill="#000"/>
<path d="M678.33 51.00V54.00M676.63 51.00h3.4M676.63 54.00h3.4" stroke="#000" stroke-width="0.9" fill="none"/>
<rect x="676.53" y="50.70" width="3.6" height="3.6" fill="#000"/>
<path d="M684.44 50.80V53.80M682.74 50.80h3.4M682.74 53.80h3.4" stroke="#000" stroke-width="0.9" fill="none"/>
<rect x="682.64" y="50.50" width="3.6" height="3.6" fill="#000"/>
<path d="M690.55 51.10V54.10M688.85 51.10h3.4M688.85 54.10h3.4" stroke="#000" stroke-width="0.9" fill="none"/>
<rect x="688.75" y="50.80" width="3.6" height="3.6" fill="#000"/>
<path d="M696.65 50.70V53.70M694.95 50.70h3.4M694.95 53.70h3.4" stroke="#000" stroke-width="0.9" fill="none"/>
<rect x="694.85" y="50.40" width="3.6" height="3.6" fill="#000"/>
<path d="M702.76 51.00V54.00M701.06 51.00h3.4M701.06 54.00h3.4" stroke="#000" stroke-width="0.9" fill="none"/>
<rect x="700.96" y="50.70" width="3.6" height="3.6" fill="#000"/>
<path d="M708.87 51.30V54.30M707.17 51.30h3.4M707.17 54.30h3.4" stroke="#000" stroke-width="0.9" fill="none"/>
<rect x="707.07" y="51.00" width="3.6" height="3.6" fill="#000"/>
<path d="M714.98 50.90V53.90M713.28 50.90h3.4M713.28 53.90h3.4" stroke="#000" stroke-width="0.9" fill="none"/>
<rect x="713.18" y="50.60" width="3.6" height="3.6" fill="#000"/>
<path d="M721.09 50.80V53.80M719.39 50.80h3.4M719.39 53.80h3.4" stroke="#000" stroke-width="0.9" fill="none"/>
<rect x="719.29" y="50.50" width="3.6" height="3.6" fill="#000"/>
<path d="M727.20 51.00V54.00M725.50 51.00h3.4M725.50 54.00h3.4" stroke="#000" stroke-width="0.9" fill="none"/>
<rect x="725.40" y="50.70" width="3.6" height="3.6" fill="#000"/>
<path d="M217.5 200.6L241.6 190.6" stroke="#000" stroke-width="0.9"/>
<path d="M316.9 200.5L342.7 189.2" stroke="#000" stroke-width="0.9"/>
<path d="M509.4 151.9L512.9 158.3" stroke="#000" stroke-width="0.9"/>
<path d="M573.3 151.0L581.2 162.9" stroke="#000" stroke-width="0.9"/>
<path d="M707.9 151.4L713.7 158.2" stroke="#000" stroke-width="0.9"/>
<path d="M490.7 189.5L503.4 194.4" stroke="#000" stroke-width="0.9"/>
<text x="65.2" y="35.6" font-size="14.4" font-weight="normal" text-anchor="end">60000</text>
<text x="65.2" y="86.6" font-size="14.4" font-weight="normal" text-anchor="end">50000</text>
<text x="65.2" y="137.6" font-size="14.4" font-weight="normal" text-anchor="end">40000</text>
<text x="65.2" y="188.6" font-size="14.4" font-weight="normal" text-anchor="end">30000</text>
<text x="74.5" y="232" font-size="14.4" font-weight="normal" text-anchor="middle">0</text>
<text x="164.2" y="232" font-size="14.4" font-weight="normal" text-anchor="middle">1000</text>
<text x="253.9" y="232" font-size="14.4" font-weight="normal" text-anchor="middle">2000</text>
<text x="343.6" y="232" font-size="14.4" font-weight="normal" text-anchor="middle">3000</text>
<text x="208.55" y="253" font-size="14" font-weight="normal" text-anchor="middle" textLength="51.8" lengthAdjust="spacingAndGlyphs">Time (s)</text>
<text x="449.2" y="35.6" font-size="14.4" font-weight="normal" text-anchor="end">60000</text>
<text x="449.2" y="86.6" font-size="14.4" font-weight="normal" text-anchor="end">50000</text>
<text x="449.2" y="137.6" font-size="14.4" font-weight="normal" text-anchor="end">40000</text>
<text x="449.2" y="188.6" font-size="14.4" font-weight="normal" text-anchor="end">30000</text>
<text x="458.4" y="232" font-size="14.4" font-weight="normal" text-anchor="middle">0</text>
<text x="548.0" y="232" font-size="14.4" font-weight="normal" text-anchor="middle">1000</text>
<text x="637.6" y="232" font-size="14.4" font-weight="normal" text-anchor="middle">2000</text>
<text x="727.2" y="232" font-size="14.4" font-weight="normal" text-anchor="middle">3000</text>
<text x="592.3" y="253" font-size="14" font-weight="normal" text-anchor="middle" textLength="51.8" lengthAdjust="spacingAndGlyphs">Time (s)</text>
<text x="1" y="19" font-size="24" font-weight="bold" text-anchor="start">A</text>
<text x="384.5" y="19" font-size="24" font-weight="bold" text-anchor="start">B</text>
<text transform="translate(11.6,214.6) rotate(-90)" x="0" y="0" font-size="14" textLength="187" lengthAdjust="spacingAndGlyphs">Fluorescence intensity (RFU)</text>
<text transform="translate(396.9,214.6) rotate(-90)" x="0" y="0" font-size="14" textLength="187" lengthAdjust="spacingAndGlyphs">Fluorescence intensity (RFU)</text>
<text x="235.5" y="35" font-size="14" font-weight="normal" text-anchor="start" textLength="112.8" lengthAdjust="spacingAndGlyphs">EcDsbA + GSSG</text>
<text x="226.3" y="100.8" font-size="14" font-weight="normal" text-anchor="start" textLength="120.5" lengthAdjust="spacingAndGlyphs">BpsDsbA + GSSG</text>
<text x="303.6" y="155.8" font-size="14" font-weight="normal" text-anchor="start" textLength="42.1" lengthAdjust="spacingAndGlyphs">GSSG</text>
<text x="163.3" y="205" font-size="14" font-weight="normal" text-anchor="start" textLength="52.4" lengthAdjust="spacingAndGlyphs">EcDsbA</text>
<text x="255.0" y="204.8" font-size="14" font-weight="normal" text-anchor="start" textLength="60.6" lengthAdjust="spacingAndGlyphs">BpsDsbA</text>
<text x="606.4" y="37" font-size="14" font-weight="normal" text-anchor="start" textLength="122.7" lengthAdjust="spacingAndGlyphs">EcDsbA + EcDsbB</text>
<text x="475.3" y="149" font-size="14" font-weight="normal" text-anchor="start" textLength="53.0" lengthAdjust="spacingAndGlyphs">EcDsbA</text>
<text x="550.9" y="148.9" font-size="14" font-weight="normal" text-anchor="start" textLength="59.5" lengthAdjust="spacingAndGlyphs">BpsDsbA</text>
<text x="674.7" y="149.2" font-size="14" font-weight="normal" text-anchor="start" textLength="52.6" lengthAdjust="spacingAndGlyphs">EcDsbB</text>
<text x="505.2" y="200" font-size="14" font-weight="normal" text-anchor="start" textLength="130.1" lengthAdjust="spacingAndGlyphs">BpsDsbA + EcDsbB</text>
</svg>
</body></html>
